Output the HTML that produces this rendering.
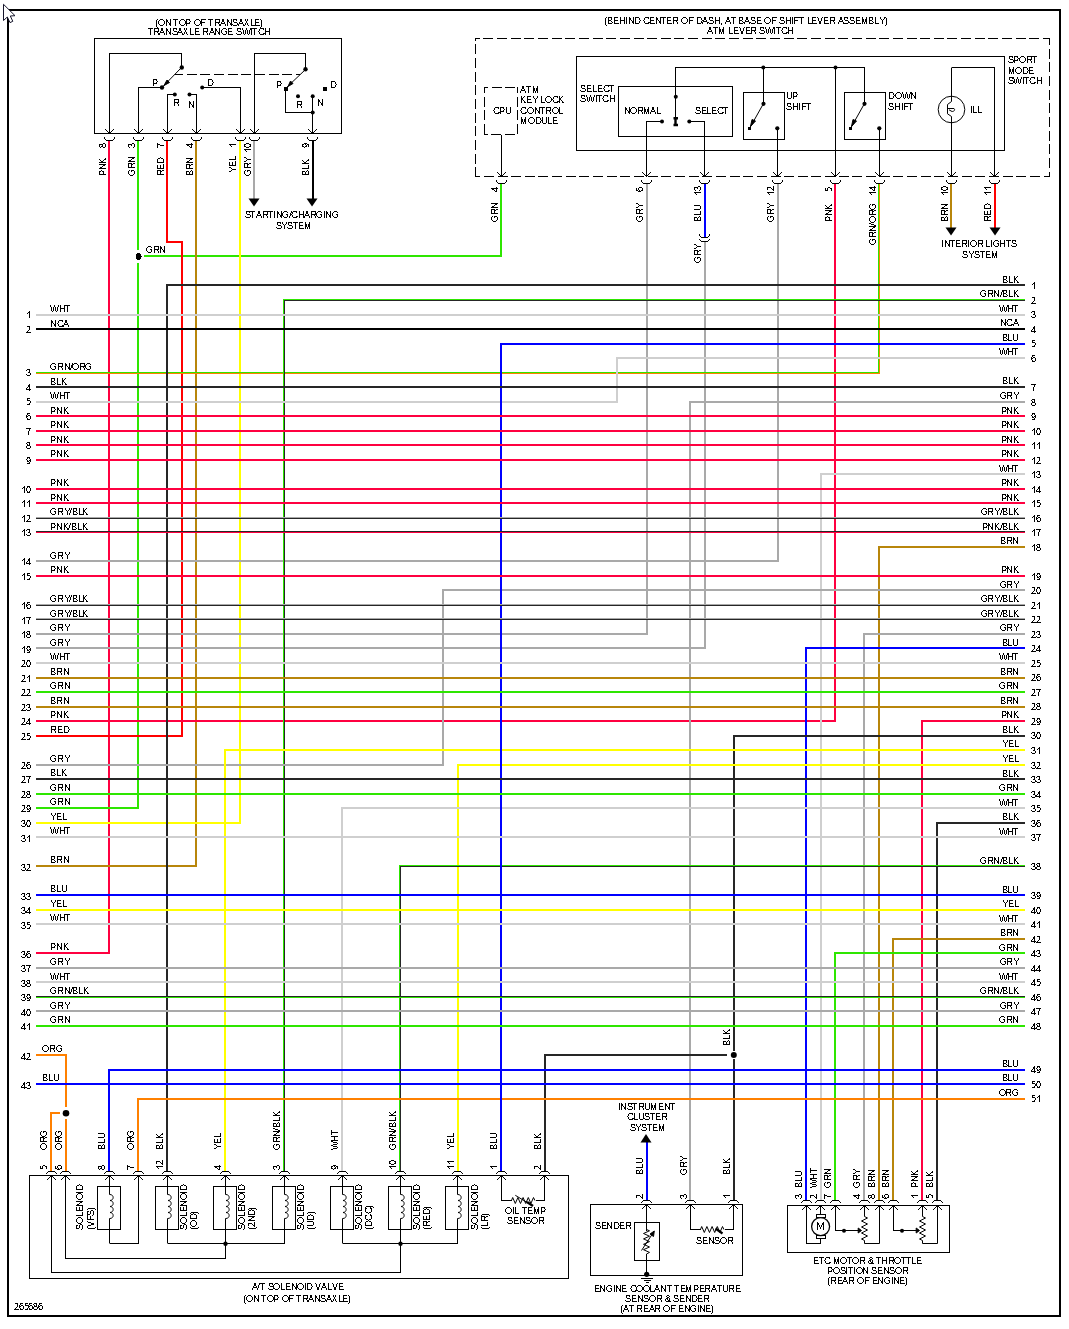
<!DOCTYPE html>
<html><head><meta charset="utf-8"><title>Wiring Diagram</title>
<style>
html,body{margin:0;padding:0;background:#fff;}
body{width:1069px;height:1329px;overflow:hidden;}
svg{display:block;}
svg text{font-family:"Liberation Sans",sans-serif;font-size:10.2px;fill:#000;fill-opacity:0;stroke:none;}
</style></head><body>
<svg width="1069" height="1329" viewBox="0 0 1069 1329" fill="none" shape-rendering="crispEdges">
<defs><path id="g49" d="M3 -7h1v1h-1zM2 -6h2v1h-2zM1 -5h1v1h-1zM3 -5h1v1h-1zM3 -4h1v1h-1zM3 -3h1v1h-1zM3 -2h1v1h-1zM3 -1h1v1h-1z" fill="#000" stroke="none"/><path id="g87" d="M0 -7h1v1h-1zM4 -7h1v1h-1zM8 -7h1v1h-1zM0 -6h1v1h-1zM4 -6h1v1h-1zM8 -6h1v1h-1zM1 -5h1v1h-1zM3 -5h1v1h-1zM5 -5h1v1h-1zM7 -5h1v1h-1zM1 -4h1v1h-1zM3 -4h1v1h-1zM5 -4h1v1h-1zM7 -4h1v1h-1zM1 -3h1v1h-1zM3 -3h1v1h-1zM5 -3h1v1h-1zM7 -3h1v1h-1zM1 -2h1v1h-1zM3 -2h1v1h-1zM5 -2h1v1h-1zM7 -2h1v1h-1zM2 -1h1v1h-1zM6 -1h1v1h-1z" fill="#000" stroke="none"/><path id="g72" d="M1 -7h1v1h-1zM5 -7h1v1h-1zM1 -6h1v1h-1zM5 -6h1v1h-1zM1 -5h1v1h-1zM5 -5h1v1h-1zM1 -4h5v1h-5zM1 -3h1v1h-1zM5 -3h1v1h-1zM1 -2h1v1h-1zM5 -2h1v1h-1zM1 -1h1v1h-1zM5 -1h1v1h-1z" fill="#000" stroke="none"/><path id="g84" d="M0 -7h5v1h-5zM2 -6h1v1h-1zM2 -5h1v1h-1zM2 -4h1v1h-1zM2 -3h1v1h-1zM2 -2h1v1h-1zM2 -1h1v1h-1z" fill="#000" stroke="none"/><path id="g50" d="M1 -7h3v1h-3zM3 -6h1v1h-1zM3 -5h1v1h-1zM3 -4h1v1h-1zM2 -3h1v1h-1zM1 -2h1v1h-1zM0 -1h5v1h-5z" fill="#000" stroke="none"/><path id="g78" d="M1 -7h1v1h-1zM5 -7h1v1h-1zM1 -6h2v1h-2zM5 -6h1v1h-1zM1 -5h2v1h-2zM5 -5h1v1h-1zM1 -4h1v1h-1zM3 -4h1v1h-1zM5 -4h1v1h-1zM1 -3h1v1h-1zM4 -3h2v1h-2zM1 -2h1v1h-1zM4 -2h2v1h-2zM1 -1h1v1h-1zM5 -1h1v1h-1z" fill="#000" stroke="none"/><path id="g67" d="M2 -7h4v1h-4zM1 -6h1v1h-1zM5 -6h1v1h-1zM1 -5h1v1h-1zM0 -4h1v1h-1zM1 -3h1v1h-1zM1 -2h1v1h-1zM5 -2h2v1h-2zM2 -1h4v1h-4z" fill="#000" stroke="none"/><path id="g65" d="M2 -7h2v1h-2zM2 -6h2v1h-2zM2 -5h2v1h-2zM1 -4h1v1h-1zM4 -4h1v1h-1zM1 -3h4v1h-4zM0 -2h1v1h-1zM5 -2h1v1h-1zM0 -1h1v1h-1zM5 -1h1v1h-1z" fill="#000" stroke="none"/><path id="g51" d="M1 -7h3v1h-3zM0 -6h1v1h-1zM3 -6h1v1h-1zM3 -5h1v1h-1zM2 -4h2v1h-2zM4 -3h1v1h-1zM0 -2h1v1h-1zM4 -2h1v1h-1zM1 -1h3v1h-3z" fill="#000" stroke="none"/><path id="g71" d="M2 -7h3v1h-3zM1 -6h1v1h-1zM5 -6h1v1h-1zM0 -5h1v1h-1zM0 -4h1v1h-1zM4 -4h2v1h-2zM0 -3h1v1h-1zM5 -3h1v1h-1zM1 -2h1v1h-1zM5 -2h1v1h-1zM2 -1h3v1h-3z" fill="#000" stroke="none"/><path id="g82" d="M1 -7h5v1h-5zM1 -6h1v1h-1zM5 -6h1v1h-1zM1 -5h1v1h-1zM5 -5h1v1h-1zM1 -4h5v1h-5zM1 -3h1v1h-1zM4 -3h1v1h-1zM1 -2h1v1h-1zM5 -2h1v1h-1zM1 -1h1v1h-1zM5 -1h1v1h-1z" fill="#000" stroke="none"/><path id="g47" d="M2 -7h1v1h-1zM2 -6h1v1h-1zM1 -5h1v1h-1zM1 -4h1v1h-1zM1 -3h1v1h-1zM0 -2h1v1h-1zM0 -1h1v1h-1z" fill="#000" stroke="none"/><path id="g79" d="M2 -7h3v1h-3zM1 -6h1v1h-1zM5 -6h1v1h-1zM0 -5h1v1h-1zM6 -5h1v1h-1zM0 -4h1v1h-1zM6 -4h1v1h-1zM0 -3h1v1h-1zM6 -3h1v1h-1zM1 -2h1v1h-1zM5 -2h1v1h-1zM2 -1h3v1h-3z" fill="#000" stroke="none"/><path id="g52" d="M3 -7h1v1h-1zM2 -6h2v1h-2zM2 -5h2v1h-2zM1 -4h1v1h-1zM3 -4h1v1h-1zM0 -3h1v1h-1zM3 -3h1v1h-1zM0 -2h5v1h-5zM3 -1h1v1h-1z" fill="#000" stroke="none"/><path id="g66" d="M1 -7h4v1h-4zM1 -6h1v1h-1zM4 -6h1v1h-1zM1 -5h1v1h-1zM4 -5h1v1h-1zM1 -4h3v1h-3zM1 -3h1v1h-1zM4 -3h1v1h-1zM1 -2h1v1h-1zM5 -2h1v1h-1zM1 -1h4v1h-4z" fill="#000" stroke="none"/><path id="g76" d="M1 -7h1v1h-1zM1 -6h1v1h-1zM1 -5h1v1h-1zM1 -4h1v1h-1zM1 -3h1v1h-1zM1 -2h1v1h-1zM1 -1h4v1h-4z" fill="#000" stroke="none"/><path id="g75" d="M1 -7h1v1h-1zM4 -7h1v1h-1zM1 -6h1v1h-1zM3 -6h1v1h-1zM1 -5h2v1h-2zM1 -4h2v1h-2zM1 -3h1v1h-1zM3 -3h1v1h-1zM1 -2h1v1h-1zM4 -2h1v1h-1zM1 -1h1v1h-1zM4 -1h2v1h-2z" fill="#000" stroke="none"/><path id="g53" d="M1 -7h3v1h-3zM1 -6h1v1h-1zM1 -5h3v1h-3zM4 -4h1v1h-1zM4 -3h1v1h-1zM3 -2h1v1h-1zM1 -1h3v1h-3z" fill="#000" stroke="none"/><path id="g54" d="M1 -7h3v1h-3zM1 -6h1v1h-1zM0 -5h1v1h-1zM2 -5h2v1h-2zM0 -4h2v1h-2zM4 -4h1v1h-1zM0 -3h1v1h-1zM4 -3h1v1h-1zM1 -2h1v1h-1zM4 -2h1v1h-1zM1 -1h3v1h-3z" fill="#000" stroke="none"/><path id="g80" d="M1 -7h4v1h-4zM1 -6h1v1h-1zM4 -6h1v1h-1zM1 -5h1v1h-1zM5 -5h1v1h-1zM1 -4h1v1h-1zM4 -4h1v1h-1zM1 -3h4v1h-4zM1 -2h1v1h-1zM1 -1h1v1h-1z" fill="#000" stroke="none"/><path id="g55" d="M0 -7h5v1h-5zM3 -6h1v1h-1zM3 -5h1v1h-1zM2 -4h1v1h-1zM2 -3h1v1h-1zM2 -2h1v1h-1zM2 -1h1v1h-1z" fill="#000" stroke="none"/><path id="g56" d="M1 -7h3v1h-3zM0 -6h1v1h-1zM3 -6h1v1h-1zM1 -5h1v1h-1zM3 -5h1v1h-1zM1 -4h3v1h-3zM0 -3h1v1h-1zM4 -3h1v1h-1zM0 -2h1v1h-1zM4 -2h1v1h-1zM1 -1h3v1h-3z" fill="#000" stroke="none"/><path id="g57" d="M1 -7h3v1h-3zM1 -6h1v1h-1zM3 -6h1v1h-1zM0 -5h1v1h-1zM4 -5h1v1h-1zM1 -4h1v1h-1zM3 -4h2v1h-2zM1 -3h2v1h-2zM4 -3h1v1h-1zM3 -2h1v1h-1zM1 -1h3v1h-3z" fill="#000" stroke="none"/><path id="g48" d="M1 -7h3v1h-3zM1 -6h1v1h-1zM3 -6h1v1h-1zM0 -5h1v1h-1zM4 -5h1v1h-1zM0 -4h1v1h-1zM4 -4h1v1h-1zM0 -3h1v1h-1zM4 -3h1v1h-1zM1 -2h1v1h-1zM3 -2h1v1h-1zM1 -1h3v1h-3z" fill="#000" stroke="none"/><path id="g89" d="M1 -7h1v1h-1zM5 -7h1v1h-1zM1 -6h1v1h-1zM5 -6h1v1h-1zM2 -5h1v1h-1zM4 -5h1v1h-1zM3 -4h1v1h-1zM3 -3h1v1h-1zM3 -2h1v1h-1zM3 -1h1v1h-1z" fill="#000" stroke="none"/><path id="g69" d="M1 -7h4v1h-4zM1 -6h1v1h-1zM1 -5h1v1h-1zM1 -4h4v1h-4zM1 -3h1v1h-1zM1 -2h1v1h-1zM1 -1h5v1h-5z" fill="#000" stroke="none"/><path id="g68" d="M1 -7h4v1h-4zM1 -6h1v1h-1zM5 -6h1v1h-1zM1 -5h1v1h-1zM5 -5h1v1h-1zM1 -4h1v1h-1zM6 -4h1v1h-1zM1 -3h1v1h-1zM5 -3h1v1h-1zM1 -2h1v1h-1zM5 -2h1v1h-1zM1 -1h4v1h-4z" fill="#000" stroke="none"/><path id="g85" d="M1 -7h1v1h-1zM5 -7h1v1h-1zM1 -6h1v1h-1zM5 -6h1v1h-1zM1 -5h1v1h-1zM5 -5h1v1h-1zM1 -4h1v1h-1zM5 -4h1v1h-1zM1 -3h1v1h-1zM5 -3h1v1h-1zM1 -2h1v1h-1zM5 -2h1v1h-1zM2 -1h3v1h-3z" fill="#000" stroke="none"/><path id="g40" d="M2 -7h1v1h-1zM1 -6h1v1h-1zM1 -5h1v1h-1zM1 -4h1v1h-1zM1 -3h1v1h-1zM1 -2h1v1h-1zM1 -1h1v1h-1zM1 0h1v1h-1zM2 1h1v1h-1z" fill="#000" stroke="none"/><path id="g70" d="M1 -7h5v1h-5zM1 -6h1v1h-1zM1 -5h1v1h-1zM1 -4h4v1h-4zM1 -3h1v1h-1zM1 -2h1v1h-1zM1 -1h1v1h-1z" fill="#000" stroke="none"/><path id="g83" d="M1 -7h4v1h-4zM1 -6h1v1h-1zM4 -6h1v1h-1zM1 -5h1v1h-1zM2 -4h3v1h-3zM5 -3h1v1h-1zM0 -2h1v1h-1zM5 -2h1v1h-1zM1 -1h4v1h-4z" fill="#000" stroke="none"/><path id="g88" d="M1 -7h1v1h-1zM3 -7h1v1h-1zM1 -6h1v1h-1zM3 -6h1v1h-1zM2 -5h1v1h-1zM2 -4h1v1h-1zM1 -3h1v1h-1zM3 -3h1v1h-1zM1 -2h1v1h-1zM3 -2h1v1h-1zM0 -1h1v1h-1zM4 -1h1v1h-1z" fill="#000" stroke="none"/><path id="g41" d="M0 -7h1v1h-1zM1 -6h1v1h-1zM1 -5h1v1h-1zM1 -4h1v1h-1zM1 -3h1v1h-1zM1 -2h1v1h-1zM1 -1h1v1h-1zM1 0h1v1h-1zM0 1h1v1h-1z" fill="#000" stroke="none"/><path id="g73" d="M1 -7h1v1h-1zM1 -6h1v1h-1zM1 -5h1v1h-1zM1 -4h1v1h-1zM1 -3h1v1h-1zM1 -2h1v1h-1zM1 -1h1v1h-1z" fill="#000" stroke="none"/><path id="g77" d="M1 -7h1v1h-1zM5 -7h1v1h-1zM1 -6h1v1h-1zM5 -6h1v1h-1zM1 -5h2v1h-2zM4 -5h2v1h-2zM1 -4h2v1h-2zM4 -4h2v1h-2zM1 -3h2v1h-2zM4 -3h2v1h-2zM1 -2h1v1h-1zM3 -2h1v1h-1zM5 -2h1v1h-1zM1 -1h1v1h-1zM3 -1h1v1h-1zM5 -1h1v1h-1z" fill="#000" stroke="none"/><path id="g44" d="M1 -1h1v1h-1zM1 0h1v1h-1z" fill="#000" stroke="none"/><path id="g86" d="M0 -7h1v1h-1zM5 -7h1v1h-1zM1 -6h1v1h-1zM4 -6h1v1h-1zM1 -5h1v1h-1zM4 -5h1v1h-1zM1 -4h1v1h-1zM4 -4h1v1h-1zM2 -3h2v1h-2zM2 -2h2v1h-2zM2 -1h2v1h-2z" fill="#000" stroke="none"/><path id="g38" d="M2 -7h2v1h-2zM1 -6h1v1h-1zM4 -6h1v1h-1zM2 -5h2v1h-2zM1 -4h2v1h-2zM4 -4h1v1h-1zM0 -3h1v1h-1zM2 -3h1v1h-1zM4 -3h1v1h-1zM0 -2h1v1h-1zM3 -2h2v1h-2zM1 -1h5v1h-5z" fill="#000" stroke="none"/></defs>
<rect x="8" y="10" width="1052" height="1306" stroke="#000" stroke-width="2"/>
<path d="M3.5 4.3 L3.5 20.5 L7.3 17 L10 22.6 L12.8 21.3 L10.3 16 L15 15.7 Z" fill="#fff" stroke="#14142a" stroke-width="1" shape-rendering="auto"/>
<path d="M109 141 L109 953 L36 953" stroke="#ff0040" stroke-width="2"/>
<path d="M138 141 L138 250" stroke="#2ee600" stroke-width="2"/>
<path d="M138 263 L138 808 L36 808" stroke="#2ee600" stroke-width="2"/>
<path d="M144 256 L501 256 L501 184" stroke="#2ee600" stroke-width="2"/>
<path d="M167 141 L167 242 L182 242 L182 736 L36 736" stroke="#ff0000" stroke-width="2"/>
<path d="M196 141 L196 866 L36 866" stroke="#b8860b" stroke-width="2"/>
<path d="M240 141 L240 823 L36 823" stroke="#ffff00" stroke-width="2"/>
<path d="M254 141 L254 199" stroke="#a9a9a9" stroke-width="2"/>
<path d="M313 141 L313 199" stroke="#000000" stroke-width="2"/>
<path d="M647 184 L647 634 L36 634" stroke="#a9a9a9" stroke-width="2"/>
<path d="M705 184 L705 237" stroke="#0000ff" stroke-width="2"/>
<path d="M705 242 L705 648 L36 648" stroke="#a9a9a9" stroke-width="2"/>
<path d="M778 184 L778 561 L36 561" stroke="#a9a9a9" stroke-width="2"/>
<path d="M835 184 L835 721 L36 721" stroke="#ff0040" stroke-width="2"/>
<path d="M878.5 184.0 L878.5 372.5 L36.0 372.5" stroke="#2ee600" stroke-width="1"/>
<path d="M879.5 184.0 L879.5 373.5 L36.0 373.5" stroke="#ff8000" stroke-width="1"/>
<path d="M951 184 L951 228" stroke="#b8860b" stroke-width="2"/>
<path d="M995 184 L995 228" stroke="#ff0000" stroke-width="2"/>
<path d="M1025 285 L167 285 L167 1171" stroke="#262626" stroke-width="2"/>
<path d="M1025.0 299.5 L283.5 299.5 L283.5 1171.0" stroke="#2ee600" stroke-width="1"/>
<path d="M1025.0 300.5 L284.5 300.5 L284.5 1171.0" stroke="#262626" stroke-width="1"/>
<path d="M36 402 L617 402 L617 358 L1025 358" stroke="#cfcfcf" stroke-width="2"/>
<path d="M1025 402 L690 402 L690 1200" stroke="#a9a9a9" stroke-width="2"/>
<path d="M1025 474 L821 474 L821 1200" stroke="#cfcfcf" stroke-width="2"/>
<path d="M1025 547 L879 547 L879 1200" stroke="#b8860b" stroke-width="2"/>
<path d="M1025 590 L443 590 L443 765 L36 765" stroke="#a9a9a9" stroke-width="2"/>
<path d="M1025 634 L864 634 L864 1200" stroke="#a9a9a9" stroke-width="2"/>
<path d="M1025 648 L806 648 L806 1200" stroke="#0000ff" stroke-width="2"/>
<path d="M1025 721 L922 721 L922 1200" stroke="#ff0040" stroke-width="2"/>
<path d="M1025 736 L734 736 L734 1051" stroke="#262626" stroke-width="2"/>
<path d="M734 1059 L734 1200" stroke="#262626" stroke-width="2"/>
<path d="M727 1055 L545 1055 L545 1171" stroke="#262626" stroke-width="2"/>
<path d="M1025 750 L225 750 L225 1171" stroke="#ffff00" stroke-width="2"/>
<path d="M1025 765 L458 765 L458 1171" stroke="#ffff00" stroke-width="2"/>
<path d="M1025 808 L342 808 L342 1171" stroke="#cfcfcf" stroke-width="2"/>
<path d="M1025 823 L937 823 L937 1200" stroke="#262626" stroke-width="2"/>
<path d="M1025.0 865.5 L399.5 865.5 L399.5 1171.0" stroke="#2ee600" stroke-width="1"/>
<path d="M1025.0 866.5 L400.5 866.5 L400.5 1171.0" stroke="#262626" stroke-width="1"/>
<path d="M1025 939 L893 939 L893 1200" stroke="#b8860b" stroke-width="2"/>
<path d="M1025 953 L835 953 L835 1200" stroke="#2ee600" stroke-width="2"/>
<path d="M36 1055 L66 1055 L66 1107" stroke="#ff8000" stroke-width="2"/>
<path d="M66 1119 L66 1171" stroke="#ff8000" stroke-width="2"/>
<path d="M60 1113 L51 1113 L51 1171" stroke="#ff8000" stroke-width="2"/>
<path d="M1025 1070 L109 1070 L109 1171" stroke="#0000ff" stroke-width="2"/>
<path d="M1025 1099 L138 1099 L138 1171" stroke="#ff8000" stroke-width="2"/>
<path d="M1025 344 L501 344 L501 1171" stroke="#0000ff" stroke-width="2"/>
<path d="M647 1142 L647 1200" stroke="#0000ff" stroke-width="2"/>
<path d="M36 315 L1025 315" stroke="#cfcfcf" stroke-width="2"/>
<path d="M36 329 L1025 329" stroke="#000000" stroke-width="2"/>
<path d="M36 387 L1025 387" stroke="#262626" stroke-width="2"/>
<path d="M36 416 L1025 416" stroke="#ff0040" stroke-width="2"/>
<path d="M36 431 L1025 431" stroke="#ff0040" stroke-width="2"/>
<path d="M36 445 L1025 445" stroke="#ff0040" stroke-width="2"/>
<path d="M36 460 L1025 460" stroke="#ff0040" stroke-width="2"/>
<path d="M36 489 L1025 489" stroke="#ff0040" stroke-width="2"/>
<path d="M36 503 L1025 503" stroke="#ff0040" stroke-width="2"/>
<path d="M36.0 517.5 L1025.0 517.5" stroke="#a9a9a9" stroke-width="1"/>
<path d="M36.0 518.5 L1025.0 518.5" stroke="#262626" stroke-width="1"/>
<path d="M36.0 531.5 L1025.0 531.5" stroke="#262626" stroke-width="1"/>
<path d="M36.0 532.5 L1025.0 532.5" stroke="#ff0040" stroke-width="1"/>
<path d="M36 576 L1025 576" stroke="#ff0040" stroke-width="2"/>
<path d="M36.0 604.5 L1025.0 604.5" stroke="#a9a9a9" stroke-width="1"/>
<path d="M36.0 605.5 L1025.0 605.5" stroke="#262626" stroke-width="1"/>
<path d="M36.0 618.5 L1025.0 618.5" stroke="#a9a9a9" stroke-width="1"/>
<path d="M36.0 619.5 L1025.0 619.5" stroke="#262626" stroke-width="1"/>
<path d="M36 663 L1025 663" stroke="#cfcfcf" stroke-width="2"/>
<path d="M36 678 L1025 678" stroke="#b8860b" stroke-width="2"/>
<path d="M36 692 L1025 692" stroke="#2ee600" stroke-width="2"/>
<path d="M36 707 L1025 707" stroke="#b8860b" stroke-width="2"/>
<path d="M36 779 L1025 779" stroke="#262626" stroke-width="2"/>
<path d="M36 794 L1025 794" stroke="#2ee600" stroke-width="2"/>
<path d="M36 837 L1025 837" stroke="#cfcfcf" stroke-width="2"/>
<path d="M36 895 L1025 895" stroke="#0000ff" stroke-width="2"/>
<path d="M36 910 L1025 910" stroke="#ffff00" stroke-width="2"/>
<path d="M36 924 L1025 924" stroke="#cfcfcf" stroke-width="2"/>
<path d="M36 968 L1025 968" stroke="#a9a9a9" stroke-width="2"/>
<path d="M36 982 L1025 982" stroke="#cfcfcf" stroke-width="2"/>
<path d="M36.0 996.5 L1025.0 996.5" stroke="#262626" stroke-width="1"/>
<path d="M36.0 997.5 L1025.0 997.5" stroke="#2ee600" stroke-width="1"/>
<path d="M36 1011 L1025 1011" stroke="#a9a9a9" stroke-width="2"/>
<path d="M36 1026 L1025 1026" stroke="#2ee600" stroke-width="2"/>
<path d="M36 1084 L1025 1084" stroke="#0000ff" stroke-width="2"/>
<use href="#g49" x="26" y="318"/><text x="25.6" y="318" textLength="4.9">1</text>
<use href="#g87" x="50" y="312"/><use href="#g72" x="59" y="312"/><use href="#g84" x="65" y="312"/><text x="50.4" y="312" textLength="19.9">WHT</text>
<use href="#g50" x="26" y="333"/><text x="25.6" y="333" textLength="4.9">2</text>
<use href="#g78" x="50" y="327"/><use href="#g67" x="57" y="327"/><use href="#g65" x="63" y="327"/><text x="50.4" y="327" textLength="18.5">NCA</text>
<use href="#g51" x="26" y="376"/><text x="25.6" y="376" textLength="4.9">3</text>
<use href="#g71" x="50" y="370"/><use href="#g82" x="57" y="370"/><use href="#g78" x="64" y="370"/><use href="#g47" x="70" y="370"/><use href="#g79" x="72" y="370"/><use href="#g82" x="79" y="370"/><use href="#g71" x="85" y="370"/><text x="50.4" y="370" textLength="41.8">GRN/ORG</text>
<use href="#g52" x="26" y="391"/><text x="25.6" y="391" textLength="4.9">4</text>
<use href="#g66" x="50" y="385"/><use href="#g76" x="56" y="385"/><use href="#g75" x="61" y="385"/><text x="50.4" y="385" textLength="16.5">BLK</text>
<use href="#g53" x="26" y="405"/><text x="25.6" y="405" textLength="4.9">5</text>
<use href="#g87" x="50" y="399"/><use href="#g72" x="59" y="399"/><use href="#g84" x="65" y="399"/><text x="50.4" y="399" textLength="19.9">WHT</text>
<use href="#g54" x="26" y="420"/><text x="25.6" y="420" textLength="4.9">6</text>
<use href="#g80" x="50" y="414"/><use href="#g78" x="56" y="414"/><use href="#g75" x="63" y="414"/><text x="50.4" y="414" textLength="18.0">PNK</text>
<use href="#g55" x="26" y="435"/><text x="25.6" y="435" textLength="4.9">7</text>
<use href="#g80" x="50" y="428"/><use href="#g78" x="56" y="428"/><use href="#g75" x="63" y="428"/><text x="50.4" y="428" textLength="18.0">PNK</text>
<use href="#g56" x="26" y="449"/><text x="25.6" y="449" textLength="4.9">8</text>
<use href="#g80" x="50" y="443"/><use href="#g78" x="56" y="443"/><use href="#g75" x="63" y="443"/><text x="50.4" y="443" textLength="18.0">PNK</text>
<use href="#g57" x="26" y="464"/><text x="25.6" y="464" textLength="4.9">9</text>
<use href="#g80" x="50" y="457"/><use href="#g78" x="56" y="457"/><use href="#g75" x="63" y="457"/><text x="50.4" y="457" textLength="18.0">PNK</text>
<use href="#g49" x="21" y="493"/><use href="#g48" x="26" y="493"/><text x="20.8" y="493" textLength="9.7">10</text>
<use href="#g80" x="50" y="486"/><use href="#g78" x="56" y="486"/><use href="#g75" x="63" y="486"/><text x="50.4" y="486" textLength="18.0">PNK</text>
<use href="#g49" x="21" y="507"/><use href="#g49" x="26" y="507"/><text x="20.8" y="507" textLength="9.7">11</text>
<use href="#g80" x="50" y="501"/><use href="#g78" x="56" y="501"/><use href="#g75" x="63" y="501"/><text x="50.4" y="501" textLength="18.0">PNK</text>
<use href="#g49" x="21" y="522"/><use href="#g50" x="26" y="522"/><text x="20.8" y="522" textLength="9.7">12</text>
<use href="#g71" x="50" y="515"/><use href="#g82" x="57" y="515"/><use href="#g89" x="64" y="515"/><use href="#g47" x="69" y="515"/><use href="#g66" x="72" y="515"/><use href="#g76" x="78" y="515"/><use href="#g75" x="82" y="515"/><text x="50.4" y="515" textLength="37.9">GRY/BLK</text>
<use href="#g49" x="21" y="536"/><use href="#g51" x="26" y="536"/><text x="20.8" y="536" textLength="9.7">13</text>
<use href="#g80" x="50" y="530"/><use href="#g78" x="56" y="530"/><use href="#g75" x="63" y="530"/><use href="#g47" x="68" y="530"/><use href="#g66" x="71" y="530"/><use href="#g76" x="77" y="530"/><use href="#g75" x="82" y="530"/><text x="50.4" y="530" textLength="37.0">PNK/BLK</text>
<use href="#g49" x="21" y="565"/><use href="#g52" x="26" y="565"/><text x="20.8" y="565" textLength="9.7">14</text>
<use href="#g71" x="50" y="559"/><use href="#g82" x="57" y="559"/><use href="#g89" x="64" y="559"/><text x="50.4" y="559" textLength="19.0">GRY</text>
<use href="#g49" x="21" y="580"/><use href="#g53" x="26" y="580"/><text x="20.8" y="580" textLength="9.7">15</text>
<use href="#g80" x="50" y="573"/><use href="#g78" x="56" y="573"/><use href="#g75" x="63" y="573"/><text x="50.4" y="573" textLength="18.0">PNK</text>
<use href="#g49" x="21" y="609"/><use href="#g54" x="26" y="609"/><text x="20.8" y="609" textLength="9.7">16</text>
<use href="#g71" x="50" y="602"/><use href="#g82" x="57" y="602"/><use href="#g89" x="64" y="602"/><use href="#g47" x="69" y="602"/><use href="#g66" x="72" y="602"/><use href="#g76" x="78" y="602"/><use href="#g75" x="82" y="602"/><text x="50.4" y="602" textLength="37.9">GRY/BLK</text>
<use href="#g49" x="21" y="624"/><use href="#g55" x="26" y="624"/><text x="20.8" y="624" textLength="9.7">17</text>
<use href="#g71" x="50" y="617"/><use href="#g82" x="57" y="617"/><use href="#g89" x="64" y="617"/><use href="#g47" x="69" y="617"/><use href="#g66" x="72" y="617"/><use href="#g76" x="78" y="617"/><use href="#g75" x="82" y="617"/><text x="50.4" y="617" textLength="37.9">GRY/BLK</text>
<use href="#g49" x="21" y="638"/><use href="#g56" x="26" y="638"/><text x="20.8" y="638" textLength="9.7">18</text>
<use href="#g71" x="50" y="631"/><use href="#g82" x="57" y="631"/><use href="#g89" x="64" y="631"/><text x="50.4" y="631" textLength="19.0">GRY</text>
<use href="#g49" x="21" y="653"/><use href="#g57" x="26" y="653"/><text x="20.8" y="653" textLength="9.7">19</text>
<use href="#g71" x="50" y="646"/><use href="#g82" x="57" y="646"/><use href="#g89" x="64" y="646"/><text x="50.4" y="646" textLength="19.0">GRY</text>
<use href="#g50" x="21" y="667"/><use href="#g48" x="26" y="667"/><text x="20.8" y="667" textLength="9.7">20</text>
<use href="#g87" x="50" y="660"/><use href="#g72" x="59" y="660"/><use href="#g84" x="65" y="660"/><text x="50.4" y="660" textLength="19.9">WHT</text>
<use href="#g50" x="21" y="682"/><use href="#g49" x="26" y="682"/><text x="20.8" y="682" textLength="9.7">21</text>
<use href="#g66" x="50" y="675"/><use href="#g82" x="56" y="675"/><use href="#g78" x="63" y="675"/><text x="50.4" y="675" textLength="18.5">BRN</text>
<use href="#g50" x="21" y="696"/><use href="#g50" x="26" y="696"/><text x="20.8" y="696" textLength="9.7">22</text>
<use href="#g71" x="50" y="689"/><use href="#g82" x="57" y="689"/><use href="#g78" x="64" y="689"/><text x="50.4" y="689" textLength="19.4">GRN</text>
<use href="#g50" x="21" y="711"/><use href="#g51" x="26" y="711"/><text x="20.8" y="711" textLength="9.7">23</text>
<use href="#g66" x="50" y="704"/><use href="#g82" x="56" y="704"/><use href="#g78" x="63" y="704"/><text x="50.4" y="704" textLength="18.5">BRN</text>
<use href="#g50" x="21" y="725"/><use href="#g52" x="26" y="725"/><text x="20.8" y="725" textLength="9.7">24</text>
<use href="#g80" x="50" y="718"/><use href="#g78" x="56" y="718"/><use href="#g75" x="63" y="718"/><text x="50.4" y="718" textLength="18.0">PNK</text>
<use href="#g50" x="21" y="740"/><use href="#g53" x="26" y="740"/><text x="20.8" y="740" textLength="9.7">25</text>
<use href="#g82" x="50" y="733"/><use href="#g69" x="57" y="733"/><use href="#g68" x="63" y="733"/><text x="50.4" y="733" textLength="18.5">RED</text>
<use href="#g50" x="21" y="769"/><use href="#g54" x="26" y="769"/><text x="20.8" y="769" textLength="9.7">26</text>
<use href="#g71" x="50" y="762"/><use href="#g82" x="57" y="762"/><use href="#g89" x="64" y="762"/><text x="50.4" y="762" textLength="19.0">GRY</text>
<use href="#g50" x="21" y="783"/><use href="#g55" x="26" y="783"/><text x="20.8" y="783" textLength="9.7">27</text>
<use href="#g66" x="50" y="776"/><use href="#g76" x="56" y="776"/><use href="#g75" x="61" y="776"/><text x="50.4" y="776" textLength="16.5">BLK</text>
<use href="#g50" x="21" y="798"/><use href="#g56" x="26" y="798"/><text x="20.8" y="798" textLength="9.7">28</text>
<use href="#g71" x="50" y="791"/><use href="#g82" x="57" y="791"/><use href="#g78" x="64" y="791"/><text x="50.4" y="791" textLength="19.4">GRN</text>
<use href="#g50" x="21" y="812"/><use href="#g57" x="26" y="812"/><text x="20.8" y="812" textLength="9.7">29</text>
<use href="#g71" x="50" y="805"/><use href="#g82" x="57" y="805"/><use href="#g78" x="64" y="805"/><text x="50.4" y="805" textLength="19.4">GRN</text>
<use href="#g51" x="21" y="827"/><use href="#g48" x="26" y="827"/><text x="20.8" y="827" textLength="9.7">30</text>
<use href="#g89" x="50" y="820"/><use href="#g69" x="56" y="820"/><use href="#g76" x="62" y="820"/><text x="50.4" y="820" textLength="16.5">YEL</text>
<use href="#g51" x="21" y="842"/><use href="#g49" x="26" y="842"/><text x="20.8" y="842" textLength="9.7">31</text>
<use href="#g87" x="50" y="834"/><use href="#g72" x="59" y="834"/><use href="#g84" x="65" y="834"/><text x="50.4" y="834" textLength="19.9">WHT</text>
<use href="#g51" x="21" y="871"/><use href="#g50" x="26" y="871"/><text x="20.8" y="871" textLength="9.7">32</text>
<use href="#g66" x="50" y="863"/><use href="#g82" x="56" y="863"/><use href="#g78" x="63" y="863"/><text x="50.4" y="863" textLength="18.5">BRN</text>
<use href="#g51" x="21" y="900"/><use href="#g51" x="26" y="900"/><text x="20.8" y="900" textLength="9.7">33</text>
<use href="#g66" x="50" y="892"/><use href="#g76" x="56" y="892"/><use href="#g85" x="61" y="892"/><text x="50.4" y="892" textLength="17.0">BLU</text>
<use href="#g51" x="21" y="914"/><use href="#g52" x="26" y="914"/><text x="20.8" y="914" textLength="9.7">34</text>
<use href="#g89" x="50" y="907"/><use href="#g69" x="56" y="907"/><use href="#g76" x="62" y="907"/><text x="50.4" y="907" textLength="16.5">YEL</text>
<use href="#g51" x="21" y="929"/><use href="#g53" x="26" y="929"/><text x="20.8" y="929" textLength="9.7">35</text>
<use href="#g87" x="50" y="921"/><use href="#g72" x="59" y="921"/><use href="#g84" x="65" y="921"/><text x="50.4" y="921" textLength="19.9">WHT</text>
<use href="#g51" x="21" y="958"/><use href="#g54" x="26" y="958"/><text x="20.8" y="958" textLength="9.7">36</text>
<use href="#g80" x="50" y="950"/><use href="#g78" x="56" y="950"/><use href="#g75" x="63" y="950"/><text x="50.4" y="950" textLength="18.0">PNK</text>
<use href="#g51" x="21" y="972"/><use href="#g55" x="26" y="972"/><text x="20.8" y="972" textLength="9.7">37</text>
<use href="#g71" x="50" y="965"/><use href="#g82" x="57" y="965"/><use href="#g89" x="64" y="965"/><text x="50.4" y="965" textLength="19.0">GRY</text>
<use href="#g51" x="21" y="987"/><use href="#g56" x="26" y="987"/><text x="20.8" y="987" textLength="9.7">38</text>
<use href="#g87" x="50" y="980"/><use href="#g72" x="59" y="980"/><use href="#g84" x="65" y="980"/><text x="50.4" y="980" textLength="19.9">WHT</text>
<use href="#g51" x="21" y="1001"/><use href="#g57" x="26" y="1001"/><text x="20.8" y="1001" textLength="9.7">39</text>
<use href="#g71" x="50" y="994"/><use href="#g82" x="57" y="994"/><use href="#g78" x="64" y="994"/><use href="#g47" x="70" y="994"/><use href="#g66" x="72" y="994"/><use href="#g76" x="78" y="994"/><use href="#g75" x="83" y="994"/><text x="50.4" y="994" textLength="38.4">GRN/BLK</text>
<use href="#g52" x="21" y="1016"/><use href="#g48" x="26" y="1016"/><text x="20.8" y="1016" textLength="9.7">40</text>
<use href="#g71" x="50" y="1009"/><use href="#g82" x="57" y="1009"/><use href="#g89" x="64" y="1009"/><text x="50.4" y="1009" textLength="19.0">GRY</text>
<use href="#g52" x="21" y="1030"/><use href="#g49" x="26" y="1030"/><text x="20.8" y="1030" textLength="9.7">41</text>
<use href="#g71" x="50" y="1023"/><use href="#g82" x="57" y="1023"/><use href="#g78" x="64" y="1023"/><text x="50.4" y="1023" textLength="19.4">GRN</text>
<use href="#g52" x="21" y="1060"/><use href="#g50" x="26" y="1060"/><text x="20.8" y="1060" textLength="9.7">42</text>
<use href="#g79" x="42" y="1052"/><use href="#g82" x="49" y="1052"/><use href="#g71" x="56" y="1052"/><text x="42.5" y="1052" textLength="19.9">ORG</text>
<use href="#g52" x="21" y="1089"/><use href="#g51" x="26" y="1089"/><text x="20.8" y="1089" textLength="9.7">43</text>
<use href="#g66" x="42" y="1081"/><use href="#g76" x="48" y="1081"/><use href="#g85" x="53" y="1081"/><text x="42.5" y="1081" textLength="17.0">BLU</text>
<use href="#g66" x="1002" y="283"/><use href="#g76" x="1008" y="283"/><use href="#g75" x="1013" y="283"/><text x="1002.1" y="283" textLength="16.5">BLK</text>
<use href="#g49" x="1031" y="289"/><text x="1031.0" y="289" textLength="4.9">1</text>
<use href="#g71" x="980" y="297"/><use href="#g82" x="987" y="297"/><use href="#g78" x="993" y="297"/><use href="#g47" x="1000" y="297"/><use href="#g66" x="1002" y="297"/><use href="#g76" x="1008" y="297"/><use href="#g75" x="1013" y="297"/><text x="980.2" y="297" textLength="38.4">GRN/BLK</text>
<use href="#g50" x="1031" y="304"/><text x="1031.0" y="304" textLength="4.9">2</text>
<use href="#g87" x="999" y="312"/><use href="#g72" x="1007" y="312"/><use href="#g84" x="1013" y="312"/><text x="998.7" y="312" textLength="19.9">WHT</text>
<use href="#g51" x="1031" y="318"/><text x="1031.0" y="318" textLength="4.9">3</text>
<use href="#g78" x="1000" y="326"/><use href="#g67" x="1006" y="326"/><use href="#g65" x="1013" y="326"/><text x="1000.1" y="326" textLength="18.5">NCA</text>
<use href="#g52" x="1031" y="333"/><text x="1031.0" y="333" textLength="4.9">4</text>
<use href="#g66" x="1002" y="341"/><use href="#g76" x="1007" y="341"/><use href="#g85" x="1012" y="341"/><text x="1001.6" y="341" textLength="17.0">BLU</text>
<use href="#g53" x="1031" y="347"/><text x="1031.0" y="347" textLength="4.9">5</text>
<use href="#g87" x="999" y="355"/><use href="#g72" x="1007" y="355"/><use href="#g84" x="1013" y="355"/><text x="998.7" y="355" textLength="19.9">WHT</text>
<use href="#g54" x="1031" y="362"/><text x="1031.0" y="362" textLength="4.9">6</text>
<use href="#g66" x="1002" y="384"/><use href="#g76" x="1008" y="384"/><use href="#g75" x="1013" y="384"/><text x="1002.1" y="384" textLength="16.5">BLK</text>
<use href="#g55" x="1031" y="391"/><text x="1031.0" y="391" textLength="4.9">7</text>
<use href="#g71" x="1000" y="399"/><use href="#g82" x="1006" y="399"/><use href="#g89" x="1013" y="399"/><text x="999.6" y="399" textLength="19.0">GRY</text>
<use href="#g56" x="1031" y="406"/><text x="1031.0" y="406" textLength="4.9">8</text>
<use href="#g80" x="1001" y="414"/><use href="#g78" x="1006" y="414"/><use href="#g75" x="1013" y="414"/><text x="1000.6" y="414" textLength="18.0">PNK</text>
<use href="#g57" x="1031" y="420"/><text x="1031.0" y="420" textLength="4.9">9</text>
<use href="#g80" x="1001" y="428"/><use href="#g78" x="1006" y="428"/><use href="#g75" x="1013" y="428"/><text x="1000.6" y="428" textLength="18.0">PNK</text>
<use href="#g49" x="1031" y="435"/><use href="#g48" x="1036" y="435"/><text x="1031.0" y="435" textLength="9.7">10</text>
<use href="#g80" x="1001" y="443"/><use href="#g78" x="1006" y="443"/><use href="#g75" x="1013" y="443"/><text x="1000.6" y="443" textLength="18.0">PNK</text>
<use href="#g49" x="1031" y="449"/><use href="#g49" x="1036" y="449"/><text x="1031.0" y="449" textLength="9.7">11</text>
<use href="#g80" x="1001" y="457"/><use href="#g78" x="1006" y="457"/><use href="#g75" x="1013" y="457"/><text x="1000.6" y="457" textLength="18.0">PNK</text>
<use href="#g49" x="1031" y="464"/><use href="#g50" x="1036" y="464"/><text x="1031.0" y="464" textLength="9.7">12</text>
<use href="#g87" x="999" y="472"/><use href="#g72" x="1007" y="472"/><use href="#g84" x="1013" y="472"/><text x="998.7" y="472" textLength="19.9">WHT</text>
<use href="#g49" x="1031" y="478"/><use href="#g51" x="1036" y="478"/><text x="1031.0" y="478" textLength="9.7">13</text>
<use href="#g80" x="1001" y="486"/><use href="#g78" x="1006" y="486"/><use href="#g75" x="1013" y="486"/><text x="1000.6" y="486" textLength="18.0">PNK</text>
<use href="#g49" x="1031" y="493"/><use href="#g52" x="1036" y="493"/><text x="1031.0" y="493" textLength="9.7">14</text>
<use href="#g80" x="1001" y="501"/><use href="#g78" x="1006" y="501"/><use href="#g75" x="1013" y="501"/><text x="1000.6" y="501" textLength="18.0">PNK</text>
<use href="#g49" x="1031" y="507"/><use href="#g53" x="1036" y="507"/><text x="1031.0" y="507" textLength="9.7">15</text>
<use href="#g71" x="981" y="515"/><use href="#g82" x="987" y="515"/><use href="#g89" x="994" y="515"/><use href="#g47" x="1000" y="515"/><use href="#g66" x="1002" y="515"/><use href="#g76" x="1008" y="515"/><use href="#g75" x="1013" y="515"/><text x="980.7" y="515" textLength="37.9">GRY/BLK</text>
<use href="#g49" x="1031" y="522"/><use href="#g54" x="1036" y="522"/><text x="1031.0" y="522" textLength="9.7">16</text>
<use href="#g80" x="982" y="530"/><use href="#g78" x="987" y="530"/><use href="#g75" x="994" y="530"/><use href="#g47" x="1000" y="530"/><use href="#g66" x="1002" y="530"/><use href="#g76" x="1008" y="530"/><use href="#g75" x="1013" y="530"/><text x="981.6" y="530" textLength="37.0">PNK/BLK</text>
<use href="#g49" x="1031" y="536"/><use href="#g55" x="1036" y="536"/><text x="1031.0" y="536" textLength="9.7">17</text>
<use href="#g66" x="1000" y="544"/><use href="#g82" x="1006" y="544"/><use href="#g78" x="1012" y="544"/><text x="1000.1" y="544" textLength="18.5">BRN</text>
<use href="#g49" x="1031" y="551"/><use href="#g56" x="1036" y="551"/><text x="1031.0" y="551" textLength="9.7">18</text>
<use href="#g80" x="1001" y="573"/><use href="#g78" x="1006" y="573"/><use href="#g75" x="1013" y="573"/><text x="1000.6" y="573" textLength="18.0">PNK</text>
<use href="#g49" x="1031" y="580"/><use href="#g57" x="1036" y="580"/><text x="1031.0" y="580" textLength="9.7">19</text>
<use href="#g71" x="1000" y="588"/><use href="#g82" x="1006" y="588"/><use href="#g89" x="1013" y="588"/><text x="999.6" y="588" textLength="19.0">GRY</text>
<use href="#g50" x="1031" y="594"/><use href="#g48" x="1036" y="594"/><text x="1031.0" y="594" textLength="9.7">20</text>
<use href="#g71" x="981" y="602"/><use href="#g82" x="987" y="602"/><use href="#g89" x="994" y="602"/><use href="#g47" x="1000" y="602"/><use href="#g66" x="1002" y="602"/><use href="#g76" x="1008" y="602"/><use href="#g75" x="1013" y="602"/><text x="980.7" y="602" textLength="37.9">GRY/BLK</text>
<use href="#g50" x="1031" y="609"/><use href="#g49" x="1036" y="609"/><text x="1031.0" y="609" textLength="9.7">21</text>
<use href="#g71" x="981" y="617"/><use href="#g82" x="987" y="617"/><use href="#g89" x="994" y="617"/><use href="#g47" x="1000" y="617"/><use href="#g66" x="1002" y="617"/><use href="#g76" x="1008" y="617"/><use href="#g75" x="1013" y="617"/><text x="980.7" y="617" textLength="37.9">GRY/BLK</text>
<use href="#g50" x="1031" y="623"/><use href="#g50" x="1036" y="623"/><text x="1031.0" y="623" textLength="9.7">22</text>
<use href="#g71" x="1000" y="631"/><use href="#g82" x="1006" y="631"/><use href="#g89" x="1013" y="631"/><text x="999.6" y="631" textLength="19.0">GRY</text>
<use href="#g50" x="1031" y="638"/><use href="#g51" x="1036" y="638"/><text x="1031.0" y="638" textLength="9.7">23</text>
<use href="#g66" x="1002" y="646"/><use href="#g76" x="1007" y="646"/><use href="#g85" x="1012" y="646"/><text x="1001.6" y="646" textLength="17.0">BLU</text>
<use href="#g50" x="1031" y="652"/><use href="#g52" x="1036" y="652"/><text x="1031.0" y="652" textLength="9.7">24</text>
<use href="#g87" x="999" y="660"/><use href="#g72" x="1007" y="660"/><use href="#g84" x="1013" y="660"/><text x="998.7" y="660" textLength="19.9">WHT</text>
<use href="#g50" x="1031" y="667"/><use href="#g53" x="1036" y="667"/><text x="1031.0" y="667" textLength="9.7">25</text>
<use href="#g66" x="1000" y="675"/><use href="#g82" x="1006" y="675"/><use href="#g78" x="1012" y="675"/><text x="1000.1" y="675" textLength="18.5">BRN</text>
<use href="#g50" x="1031" y="681"/><use href="#g54" x="1036" y="681"/><text x="1031.0" y="681" textLength="9.7">26</text>
<use href="#g71" x="999" y="689"/><use href="#g82" x="1006" y="689"/><use href="#g78" x="1012" y="689"/><text x="999.2" y="689" textLength="19.4">GRN</text>
<use href="#g50" x="1031" y="696"/><use href="#g55" x="1036" y="696"/><text x="1031.0" y="696" textLength="9.7">27</text>
<use href="#g66" x="1000" y="704"/><use href="#g82" x="1006" y="704"/><use href="#g78" x="1012" y="704"/><text x="1000.1" y="704" textLength="18.5">BRN</text>
<use href="#g50" x="1031" y="710"/><use href="#g56" x="1036" y="710"/><text x="1031.0" y="710" textLength="9.7">28</text>
<use href="#g80" x="1001" y="718"/><use href="#g78" x="1006" y="718"/><use href="#g75" x="1013" y="718"/><text x="1000.6" y="718" textLength="18.0">PNK</text>
<use href="#g50" x="1031" y="725"/><use href="#g57" x="1036" y="725"/><text x="1031.0" y="725" textLength="9.7">29</text>
<use href="#g66" x="1002" y="733"/><use href="#g76" x="1008" y="733"/><use href="#g75" x="1013" y="733"/><text x="1002.1" y="733" textLength="16.5">BLK</text>
<use href="#g51" x="1031" y="739"/><use href="#g48" x="1036" y="739"/><text x="1031.0" y="739" textLength="9.7">30</text>
<use href="#g89" x="1002" y="747"/><use href="#g69" x="1008" y="747"/><use href="#g76" x="1014" y="747"/><text x="1002.1" y="747" textLength="16.5">YEL</text>
<use href="#g51" x="1031" y="754"/><use href="#g49" x="1036" y="754"/><text x="1031.0" y="754" textLength="9.7">31</text>
<use href="#g89" x="1002" y="762"/><use href="#g69" x="1008" y="762"/><use href="#g76" x="1014" y="762"/><text x="1002.1" y="762" textLength="16.5">YEL</text>
<use href="#g51" x="1031" y="769"/><use href="#g50" x="1036" y="769"/><text x="1031.0" y="769" textLength="9.7">32</text>
<use href="#g66" x="1002" y="777"/><use href="#g76" x="1008" y="777"/><use href="#g75" x="1013" y="777"/><text x="1002.1" y="777" textLength="16.5">BLK</text>
<use href="#g51" x="1031" y="783"/><use href="#g51" x="1036" y="783"/><text x="1031.0" y="783" textLength="9.7">33</text>
<use href="#g71" x="999" y="791"/><use href="#g82" x="1006" y="791"/><use href="#g78" x="1012" y="791"/><text x="999.2" y="791" textLength="19.4">GRN</text>
<use href="#g51" x="1031" y="798"/><use href="#g52" x="1036" y="798"/><text x="1031.0" y="798" textLength="9.7">34</text>
<use href="#g87" x="999" y="806"/><use href="#g72" x="1007" y="806"/><use href="#g84" x="1013" y="806"/><text x="998.7" y="806" textLength="19.9">WHT</text>
<use href="#g51" x="1031" y="812"/><use href="#g53" x="1036" y="812"/><text x="1031.0" y="812" textLength="9.7">35</text>
<use href="#g66" x="1002" y="820"/><use href="#g76" x="1008" y="820"/><use href="#g75" x="1013" y="820"/><text x="1002.1" y="820" textLength="16.5">BLK</text>
<use href="#g51" x="1031" y="827"/><use href="#g54" x="1036" y="827"/><text x="1031.0" y="827" textLength="9.7">36</text>
<use href="#g87" x="999" y="835"/><use href="#g72" x="1007" y="835"/><use href="#g84" x="1013" y="835"/><text x="998.7" y="835" textLength="19.9">WHT</text>
<use href="#g51" x="1031" y="841"/><use href="#g55" x="1036" y="841"/><text x="1031.0" y="841" textLength="9.7">37</text>
<use href="#g71" x="980" y="864"/><use href="#g82" x="987" y="864"/><use href="#g78" x="993" y="864"/><use href="#g47" x="1000" y="864"/><use href="#g66" x="1002" y="864"/><use href="#g76" x="1008" y="864"/><use href="#g75" x="1013" y="864"/><text x="980.2" y="864" textLength="38.4">GRN/BLK</text>
<use href="#g51" x="1031" y="870"/><use href="#g56" x="1036" y="870"/><text x="1031.0" y="870" textLength="9.7">38</text>
<use href="#g66" x="1002" y="893"/><use href="#g76" x="1007" y="893"/><use href="#g85" x="1012" y="893"/><text x="1001.6" y="893" textLength="17.0">BLU</text>
<use href="#g51" x="1031" y="899"/><use href="#g57" x="1036" y="899"/><text x="1031.0" y="899" textLength="9.7">39</text>
<use href="#g89" x="1002" y="907"/><use href="#g69" x="1008" y="907"/><use href="#g76" x="1014" y="907"/><text x="1002.1" y="907" textLength="16.5">YEL</text>
<use href="#g52" x="1031" y="914"/><use href="#g48" x="1036" y="914"/><text x="1031.0" y="914" textLength="9.7">40</text>
<use href="#g87" x="999" y="922"/><use href="#g72" x="1007" y="922"/><use href="#g84" x="1013" y="922"/><text x="998.7" y="922" textLength="19.9">WHT</text>
<use href="#g52" x="1031" y="928"/><use href="#g49" x="1036" y="928"/><text x="1031.0" y="928" textLength="9.7">41</text>
<use href="#g66" x="1000" y="936"/><use href="#g82" x="1006" y="936"/><use href="#g78" x="1012" y="936"/><text x="1000.1" y="936" textLength="18.5">BRN</text>
<use href="#g52" x="1031" y="943"/><use href="#g50" x="1036" y="943"/><text x="1031.0" y="943" textLength="9.7">42</text>
<use href="#g71" x="999" y="951"/><use href="#g82" x="1006" y="951"/><use href="#g78" x="1012" y="951"/><text x="999.2" y="951" textLength="19.4">GRN</text>
<use href="#g52" x="1031" y="957"/><use href="#g51" x="1036" y="957"/><text x="1031.0" y="957" textLength="9.7">43</text>
<use href="#g71" x="1000" y="965"/><use href="#g82" x="1006" y="965"/><use href="#g89" x="1013" y="965"/><text x="999.6" y="965" textLength="19.0">GRY</text>
<use href="#g52" x="1031" y="972"/><use href="#g52" x="1036" y="972"/><text x="1031.0" y="972" textLength="9.7">44</text>
<use href="#g87" x="999" y="980"/><use href="#g72" x="1007" y="980"/><use href="#g84" x="1013" y="980"/><text x="998.7" y="980" textLength="19.9">WHT</text>
<use href="#g52" x="1031" y="986"/><use href="#g53" x="1036" y="986"/><text x="1031.0" y="986" textLength="9.7">45</text>
<use href="#g71" x="980" y="994"/><use href="#g82" x="987" y="994"/><use href="#g78" x="993" y="994"/><use href="#g47" x="1000" y="994"/><use href="#g66" x="1002" y="994"/><use href="#g76" x="1008" y="994"/><use href="#g75" x="1013" y="994"/><text x="980.2" y="994" textLength="38.4">GRN/BLK</text>
<use href="#g52" x="1031" y="1001"/><use href="#g54" x="1036" y="1001"/><text x="1031.0" y="1001" textLength="9.7">46</text>
<use href="#g71" x="1000" y="1009"/><use href="#g82" x="1006" y="1009"/><use href="#g89" x="1013" y="1009"/><text x="999.6" y="1009" textLength="19.0">GRY</text>
<use href="#g52" x="1031" y="1015"/><use href="#g55" x="1036" y="1015"/><text x="1031.0" y="1015" textLength="9.7">47</text>
<use href="#g71" x="999" y="1023"/><use href="#g82" x="1006" y="1023"/><use href="#g78" x="1012" y="1023"/><text x="999.2" y="1023" textLength="19.4">GRN</text>
<use href="#g52" x="1031" y="1030"/><use href="#g56" x="1036" y="1030"/><text x="1031.0" y="1030" textLength="9.7">48</text>
<use href="#g66" x="1002" y="1067"/><use href="#g76" x="1007" y="1067"/><use href="#g85" x="1012" y="1067"/><text x="1001.6" y="1067" textLength="17.0">BLU</text>
<use href="#g52" x="1031" y="1073"/><use href="#g57" x="1036" y="1073"/><text x="1031.0" y="1073" textLength="9.7">49</text>
<use href="#g66" x="1002" y="1081"/><use href="#g76" x="1007" y="1081"/><use href="#g85" x="1012" y="1081"/><text x="1001.6" y="1081" textLength="17.0">BLU</text>
<use href="#g53" x="1031" y="1088"/><use href="#g48" x="1036" y="1088"/><text x="1031.0" y="1088" textLength="9.7">50</text>
<use href="#g79" x="999" y="1096"/><use href="#g82" x="1005" y="1096"/><use href="#g71" x="1012" y="1096"/><text x="998.7" y="1096" textLength="19.9">ORG</text>
<use href="#g53" x="1031" y="1102"/><use href="#g49" x="1036" y="1102"/><text x="1031.0" y="1102" textLength="9.7">51</text>
<path d="M248.5 198.5 L259.5 198.5 L254 206.5 Z" fill="#000" stroke="none" shape-rendering="auto"/>
<path d="M306.5 198.5 L317.5 198.5 L312 206.5 Z" fill="#000" stroke="none" shape-rendering="auto"/>
<path d="M945.5 227.5 L956.5 227.5 L951 235.5 Z" fill="#000" stroke="none" shape-rendering="auto"/>
<path d="M989.5 227.5 L1000.5 227.5 L995 235.5 Z" fill="#000" stroke="none" shape-rendering="auto"/>
<path d="M640.5 1142.5 L651.5 1142.5 L646 1134 Z" fill="#000" stroke="none" shape-rendering="auto"/>
<path d="M137 253h3v1h-3zM136 254h5v1h-5zM136 255h5v1h-5zM136 256h6v1h-6zM136 257h5v1h-5zM136 258h5v1h-5zM137 259h3v1h-3z" fill="#000" stroke="none"/>
<circle cx="66" cy="1113.2" r="3.3" fill="#000" stroke="none" shape-rendering="auto"/>
<circle cx="733.8" cy="1055" r="3" fill="#000" stroke="none" shape-rendering="auto"/>
<use href="#g40" x="155" y="26"/><use href="#g79" x="158" y="26"/><use href="#g78" x="165" y="26"/><use href="#g84" x="173" y="26"/><use href="#g79" x="179" y="26"/><use href="#g80" x="185" y="26"/><use href="#g79" x="194" y="26"/><use href="#g70" x="200" y="26"/><use href="#g84" x="208" y="26"/><use href="#g82" x="214" y="26"/><use href="#g65" x="220" y="26"/><use href="#g78" x="226" y="26"/><use href="#g83" x="232" y="26"/><use href="#g65" x="238" y="26"/><use href="#g88" x="244" y="26"/><use href="#g76" x="250" y="26"/><use href="#g69" x="254" y="26"/><use href="#g41" x="260" y="26"/><text x="154.8" y="26" textLength="108.4">(ON TOP OF TRANSAXLE)</text>
<use href="#g84" x="148" y="35"/><use href="#g82" x="153" y="35"/><use href="#g65" x="159" y="35"/><use href="#g78" x="165" y="35"/><use href="#g83" x="172" y="35"/><use href="#g65" x="177" y="35"/><use href="#g88" x="183" y="35"/><use href="#g76" x="189" y="35"/><use href="#g69" x="194" y="35"/><use href="#g82" x="202" y="35"/><use href="#g65" x="209" y="35"/><use href="#g78" x="214" y="35"/><use href="#g71" x="221" y="35"/><use href="#g69" x="227" y="35"/><use href="#g83" x="236" y="35"/><use href="#g87" x="242" y="35"/><use href="#g73" x="250" y="35"/><use href="#g84" x="252" y="35"/><use href="#g67" x="258" y="35"/><use href="#g72" x="264" y="35"/><text x="147.7" y="35" textLength="122.5">TRANSAXLE RANGE SWITCH</text>
<rect x="94.5" y="38.5" width="247" height="95" stroke="#000" stroke-width="1" />
<path d="M109.5 133.5 L109.5 53.5 L181.5 53.5 L181.5 67.5" stroke="#000" stroke-width="1" />
<circle cx="181.8" cy="67.5" r="2.2" fill="#000" stroke="none" shape-rendering="auto"/>
<path d="M181.5 67.5 L162 87.5" stroke="#000" stroke-width="1" shape-rendering="auto"/>
<path d="M164 85.5 L169.5 82.5 L167 80 Z" fill="#000" stroke="#000" stroke-width="1" shape-rendering="auto"/>
<circle cx="162" cy="87.5" r="2.2" fill="#000" stroke="none" shape-rendering="auto"/>
<path d="M175 74.5 H300" stroke="#000" stroke-width="1" stroke-dasharray="10 3.65" stroke-dashoffset="2"/>
<path d="M162.5 87.5 L138.5 87.5 L138.5 133.5" stroke="#000" stroke-width="1" />
<circle cx="174.8" cy="94.5" r="2" fill="#000" stroke="none" shape-rendering="auto"/>
<path d="M174.5 94.5 L167.5 94.5 L167.5 133.5" stroke="#000" stroke-width="1" />
<circle cx="189.5" cy="94.5" r="2" fill="#000" stroke="none" shape-rendering="auto"/>
<path d="M189.5 94.5 L196.5 94.5 L196.5 133.5" stroke="#000" stroke-width="1" />
<circle cx="202.2" cy="87.5" r="2" fill="#000" stroke="none" shape-rendering="auto"/>
<path d="M202.5 87.5 L240.5 87.5 L240.5 133.5" stroke="#000" stroke-width="1" />
<path d="M254.5 133.5 L254.5 53.5 L305.5 53.5 L305.5 69.5" stroke="#000" stroke-width="1" />
<circle cx="305.5" cy="69.3" r="2.2" fill="#000" stroke="none" shape-rendering="auto"/>
<path d="M305.5 69.5 L285.5 88.5" stroke="#000" stroke-width="1" shape-rendering="auto"/>
<path d="M288 86.5 L293 83.5 L290.5 81 Z" fill="#000" stroke="#000" stroke-width="1" shape-rendering="auto"/>
<rect x="283.5" y="86.8" width="4" height="4" fill="#000" stroke="none"/>
<path d="M285.5 89.5 L285.5 112.5 L312.5 112.5" stroke="#000" stroke-width="1" />
<circle cx="312.7" cy="112.5" r="2" fill="#000" stroke="none" shape-rendering="auto"/>
<circle cx="312.7" cy="96.3" r="2" fill="#000" stroke="none" shape-rendering="auto"/>
<path d="M312.5 96.5 L312.5 133.5" stroke="#000" stroke-width="1" />
<circle cx="298" cy="96.3" r="2" fill="#000" stroke="none" shape-rendering="auto"/>
<rect x="323.3" y="86.8" width="4" height="4" fill="#000" stroke="none"/>
<use href="#g80" x="152" y="86"/><text x="152.5" y="86" textLength="5.8">P</text>
<use href="#g68" x="207" y="86"/><text x="207.0" y="86" textLength="6.3">D</text>
<use href="#g82" x="173" y="106"/><text x="173.0" y="106" textLength="6.3">R</text>
<use href="#g78" x="188" y="108"/><text x="188.0" y="108" textLength="6.3">N</text>
<use href="#g80" x="276" y="88"/><text x="275.8" y="88" textLength="5.8">P</text>
<use href="#g68" x="330" y="88"/><text x="329.5" y="88" textLength="6.3">D</text>
<use href="#g82" x="296" y="108"/><text x="296.5" y="108" textLength="6.3">R</text>
<use href="#g78" x="317" y="106"/><text x="317.0" y="106" textLength="6.3">N</text>
<path d="M108 132h1v1h-1zM107 131h1v1h-1zM106 130h1v1h-1zM105 129h1v1h-1zM110 132h1v1h-1zM111 131h1v1h-1zM112 130h1v1h-1zM113 129h1v1h-1z" fill="#000" stroke="none"/>
<path d="M104 137h1v1h-1zM114 137h1v1h-1zM104 138h1v1h-1zM114 138h1v1h-1zM105 139h1v1h-1zM113 139h1v1h-1zM106 140h7v1h-7z" fill="#000" stroke="none"/>
<path d="M137 132h1v1h-1zM136 131h1v1h-1zM135 130h1v1h-1zM134 129h1v1h-1zM139 132h1v1h-1zM140 131h1v1h-1zM141 130h1v1h-1zM142 129h1v1h-1z" fill="#000" stroke="none"/>
<path d="M133 137h1v1h-1zM143 137h1v1h-1zM133 138h1v1h-1zM143 138h1v1h-1zM134 139h1v1h-1zM142 139h1v1h-1zM135 140h7v1h-7z" fill="#000" stroke="none"/>
<path d="M166 132h1v1h-1zM165 131h1v1h-1zM164 130h1v1h-1zM163 129h1v1h-1zM168 132h1v1h-1zM169 131h1v1h-1zM170 130h1v1h-1zM171 129h1v1h-1z" fill="#000" stroke="none"/>
<path d="M162 137h1v1h-1zM172 137h1v1h-1zM162 138h1v1h-1zM172 138h1v1h-1zM163 139h1v1h-1zM171 139h1v1h-1zM164 140h7v1h-7z" fill="#000" stroke="none"/>
<path d="M195 132h1v1h-1zM194 131h1v1h-1zM193 130h1v1h-1zM192 129h1v1h-1zM197 132h1v1h-1zM198 131h1v1h-1zM199 130h1v1h-1zM200 129h1v1h-1z" fill="#000" stroke="none"/>
<path d="M191 137h1v1h-1zM201 137h1v1h-1zM191 138h1v1h-1zM201 138h1v1h-1zM192 139h1v1h-1zM200 139h1v1h-1zM193 140h7v1h-7z" fill="#000" stroke="none"/>
<path d="M239 132h1v1h-1zM238 131h1v1h-1zM237 130h1v1h-1zM236 129h1v1h-1zM241 132h1v1h-1zM242 131h1v1h-1zM243 130h1v1h-1zM244 129h1v1h-1z" fill="#000" stroke="none"/>
<path d="M235 137h1v1h-1zM245 137h1v1h-1zM235 138h1v1h-1zM245 138h1v1h-1zM236 139h1v1h-1zM244 139h1v1h-1zM237 140h7v1h-7z" fill="#000" stroke="none"/>
<path d="M253 132h1v1h-1zM252 131h1v1h-1zM251 130h1v1h-1zM250 129h1v1h-1zM255 132h1v1h-1zM256 131h1v1h-1zM257 130h1v1h-1zM258 129h1v1h-1z" fill="#000" stroke="none"/>
<path d="M249 137h1v1h-1zM259 137h1v1h-1zM249 138h1v1h-1zM259 138h1v1h-1zM250 139h1v1h-1zM258 139h1v1h-1zM251 140h7v1h-7z" fill="#000" stroke="none"/>
<path d="M311 132h1v1h-1zM310 131h1v1h-1zM309 130h1v1h-1zM308 129h1v1h-1zM313 132h1v1h-1zM314 131h1v1h-1zM315 130h1v1h-1zM316 129h1v1h-1z" fill="#000" stroke="none"/>
<path d="M307 137h1v1h-1zM317 137h1v1h-1zM307 138h1v1h-1zM317 138h1v1h-1zM308 139h1v1h-1zM316 139h1v1h-1zM309 140h7v1h-7z" fill="#000" stroke="none"/>
<g transform="translate(106 176) rotate(-90)"><use href="#g80" x="0"/><use href="#g78" x="6"/><use href="#g75" x="12"/><text x="0.0" y="0" textLength="18.0">PNK</text></g>
<g transform="translate(106 148) rotate(-90)"><use href="#g56" x="0"/><text x="0.0" y="0" textLength="4.9">8</text></g>
<g transform="translate(135 176) rotate(-90)"><use href="#g71" x="0"/><use href="#g82" x="7"/><use href="#g78" x="13"/><text x="0.0" y="0" textLength="19.4">GRN</text></g>
<g transform="translate(135 148) rotate(-90)"><use href="#g51" x="0"/><text x="0.0" y="0" textLength="4.9">3</text></g>
<g transform="translate(164 176) rotate(-90)"><use href="#g82" x="0"/><use href="#g69" x="6"/><use href="#g68" x="12"/><text x="0.0" y="0" textLength="18.5">RED</text></g>
<g transform="translate(164 148) rotate(-90)"><use href="#g55" x="0"/><text x="0.0" y="0" textLength="4.9">7</text></g>
<g transform="translate(193 176) rotate(-90)"><use href="#g66" x="0"/><use href="#g82" x="6"/><use href="#g78" x="12"/><text x="0.0" y="0" textLength="18.5">BRN</text></g>
<g transform="translate(193 148) rotate(-90)"><use href="#g52" x="0"/><text x="0.0" y="0" textLength="4.9">4</text></g>
<g transform="translate(309 176) rotate(-90)"><use href="#g66" x="0"/><use href="#g76" x="6"/><use href="#g75" x="11"/><text x="0.0" y="0" textLength="16.5">BLK</text></g>
<g transform="translate(309 148) rotate(-90)"><use href="#g57" x="0"/><text x="0.0" y="0" textLength="4.9">9</text></g>
<g transform="translate(236 173) rotate(-90)"><use href="#g89" x="0"/><use href="#g69" x="6"/><use href="#g76" x="12"/><text x="0.0" y="0" textLength="16.5">YEL</text></g>
<g transform="translate(236 148) rotate(-90)"><use href="#g49" x="0"/><text x="0.0" y="0" textLength="4.9">1</text></g>
<g transform="translate(251 176) rotate(-90)"><use href="#g71" x="0"/><use href="#g82" x="7"/><use href="#g89" x="13"/><text x="0.0" y="0" textLength="19.0">GRY</text></g>
<g transform="translate(251 153) rotate(-90)"><use href="#g49" x="0"/><use href="#g48" x="5"/><text x="0.0" y="0" textLength="9.7">10</text></g>
<use href="#g71" x="146" y="253"/><use href="#g82" x="153" y="253"/><use href="#g78" x="159" y="253"/><text x="146.0" y="253" textLength="19.4">GRN</text>
<use href="#g83" x="245" y="218"/><use href="#g84" x="250" y="218"/><use href="#g65" x="256" y="218"/><use href="#g82" x="262" y="218"/><use href="#g84" x="268" y="218"/><use href="#g73" x="273" y="218"/><use href="#g78" x="276" y="218"/><use href="#g71" x="282" y="218"/><use href="#g47" x="289" y="218"/><use href="#g67" x="291" y="218"/><use href="#g72" x="298" y="218"/><use href="#g65" x="304" y="218"/><use href="#g82" x="310" y="218"/><use href="#g71" x="316" y="218"/><use href="#g73" x="323" y="218"/><use href="#g78" x="325" y="218"/><use href="#g71" x="332" y="218"/><text x="244.6" y="218" textLength="93.8">STARTING/CHARGING</text>
<use href="#g83" x="276" y="229"/><use href="#g89" x="281" y="229"/><use href="#g83" x="287" y="229"/><use href="#g84" x="293" y="229"/><use href="#g69" x="298" y="229"/><use href="#g77" x="304" y="229"/><text x="275.5" y="229" textLength="36.0">SYSTEM</text>
<use href="#g40" x="604" y="24"/><use href="#g66" x="607" y="24"/><use href="#g69" x="613" y="24"/><use href="#g72" x="619" y="24"/><use href="#g73" x="625" y="24"/><use href="#g78" x="628" y="24"/><use href="#g68" x="634" y="24"/><use href="#g67" x="643" y="24"/><use href="#g69" x="649" y="24"/><use href="#g78" x="655" y="24"/><use href="#g84" x="661" y="24"/><use href="#g69" x="666" y="24"/><use href="#g82" x="672" y="24"/><use href="#g79" x="681" y="24"/><use href="#g70" x="688" y="24"/><use href="#g68" x="696" y="24"/><use href="#g65" x="702" y="24"/><use href="#g83" x="708" y="24"/><use href="#g72" x="714" y="24"/><use href="#g44" x="720" y="24"/><use href="#g65" x="725" y="24"/><use href="#g84" x="731" y="24"/><use href="#g66" x="738" y="24"/><use href="#g65" x="744" y="24"/><use href="#g83" x="750" y="24"/><use href="#g69" x="756" y="24"/><use href="#g79" x="764" y="24"/><use href="#g70" x="771" y="24"/><use href="#g83" x="779" y="24"/><use href="#g72" x="785" y="24"/><use href="#g73" x="791" y="24"/><use href="#g70" x="793" y="24"/><use href="#g84" x="799" y="24"/><use href="#g76" x="807" y="24"/><use href="#g69" x="811" y="24"/><use href="#g86" x="817" y="24"/><use href="#g69" x="823" y="24"/><use href="#g82" x="829" y="24"/><use href="#g65" x="838" y="24"/><use href="#g83" x="843" y="24"/><use href="#g83" x="849" y="24"/><use href="#g69" x="855" y="24"/><use href="#g77" x="861" y="24"/><use href="#g66" x="868" y="24"/><use href="#g76" x="874" y="24"/><use href="#g89" x="879" y="24"/><use href="#g41" x="885" y="24"/><text x="604.3" y="24" textLength="283.5">(BEHIND CENTER OF DASH, AT BASE OF SHIFT LEVER ASSEMBLY)</text>
<use href="#g65" x="707" y="34"/><use href="#g84" x="713" y="34"/><use href="#g77" x="718" y="34"/><use href="#g76" x="728" y="34"/><use href="#g69" x="733" y="34"/><use href="#g86" x="739" y="34"/><use href="#g69" x="745" y="34"/><use href="#g82" x="750" y="34"/><use href="#g83" x="759" y="34"/><use href="#g87" x="765" y="34"/><use href="#g73" x="773" y="34"/><use href="#g84" x="776" y="34"/><use href="#g67" x="781" y="34"/><use href="#g72" x="787" y="34"/><text x="707.1" y="34" textLength="86.5">ATM LEVER SWITCH</text>
<path d="M475 38.5 L1050 38.5" stroke="#000" stroke-width="1" stroke-dasharray="10 3.65" stroke-dashoffset="5.3"/>
<path d="M475.5 38 L475.5 177" stroke="#000" stroke-width="1" stroke-dasharray="10 3.65" stroke-dashoffset="7.3"/>
<path d="M475 176.5 L1050 176.5" stroke="#000" stroke-width="1" stroke-dasharray="10 3.65" stroke-dashoffset="4.8"/>
<path d="M1049.5 38 L1049.5 177" stroke="#000" stroke-width="1" stroke-dasharray="10 3.65" stroke-dashoffset="3"/>
<path d="M484 87.5 L518 87.5" stroke="#000" stroke-width="1" stroke-dasharray="10 3.65" stroke-dashoffset="6"/>
<path d="M484.5 87 L484.5 135" stroke="#000" stroke-width="1" stroke-dasharray="10 3.65" stroke-dashoffset="4"/>
<path d="M484 134.5 L518 134.5" stroke="#000" stroke-width="1" stroke-dasharray="10 3.65" stroke-dashoffset="6.5"/>
<path d="M517.5 87 L517.5 135" stroke="#000" stroke-width="1" stroke-dasharray="10 3.65" stroke-dashoffset="4"/>
<use href="#g67" x="493" y="114"/><use href="#g80" x="499" y="114"/><use href="#g85" x="505" y="114"/><text x="492.8" y="114" textLength="18.5">CPU</text>
<path d="M501.5 134.5 L501.5 176.5" stroke="#000" stroke-width="1" />
<use href="#g65" x="520" y="93"/><use href="#g84" x="526" y="93"/><use href="#g77" x="532" y="93"/><text x="520.5" y="93" textLength="18.5">ATM</text>
<use href="#g75" x="520" y="103"/><use href="#g69" x="526" y="103"/><use href="#g89" x="532" y="103"/><use href="#g76" x="540" y="103"/><use href="#g79" x="545" y="103"/><use href="#g67" x="552" y="103"/><use href="#g75" x="558" y="103"/><text x="520.5" y="103" textLength="43.8">KEY LOCK</text>
<use href="#g67" x="520" y="114"/><use href="#g79" x="527" y="114"/><use href="#g78" x="534" y="114"/><use href="#g84" x="540" y="114"/><use href="#g82" x="545" y="114"/><use href="#g79" x="552" y="114"/><use href="#g76" x="558" y="114"/><text x="520.5" y="114" textLength="42.8">CONTROL</text>
<use href="#g77" x="520" y="124"/><use href="#g79" x="528" y="124"/><use href="#g68" x="535" y="124"/><use href="#g85" x="541" y="124"/><use href="#g76" x="547" y="124"/><use href="#g69" x="552" y="124"/><text x="520.5" y="124" textLength="37.4">MODULE</text>
<rect x="576.5" y="56.5" width="428" height="94" stroke="#000" stroke-width="1" />
<use href="#g83" x="580" y="92"/><use href="#g69" x="586" y="92"/><use href="#g76" x="592" y="92"/><use href="#g69" x="597" y="92"/><use href="#g67" x="603" y="92"/><use href="#g84" x="609" y="92"/><text x="580.5" y="92" textLength="34.0">SELECT</text>
<use href="#g83" x="580" y="102"/><use href="#g87" x="586" y="102"/><use href="#g73" x="595" y="102"/><use href="#g84" x="597" y="102"/><use href="#g67" x="602" y="102"/><use href="#g72" x="609" y="102"/><text x="580.5" y="102" textLength="34.5">SWITCH</text>
<rect x="618.5" y="86.5" width="114" height="50" stroke="#000" stroke-width="1" />
<use href="#g78" x="624" y="114"/><use href="#g79" x="630" y="114"/><use href="#g82" x="637" y="114"/><use href="#g77" x="643" y="114"/><use href="#g65" x="650" y="114"/><use href="#g76" x="656" y="114"/><text x="623.5" y="114" textLength="37.4">NORMAL</text>
<use href="#g83" x="695" y="114"/><use href="#g69" x="701" y="114"/><use href="#g76" x="706" y="114"/><use href="#g69" x="711" y="114"/><use href="#g67" x="717" y="114"/><use href="#g84" x="723" y="114"/><text x="694.8" y="114" textLength="34.0">SELECT</text>
<path d="M675.5 118.5 L675.5 67.5 L864.5 67.5 L864.5 103.5" stroke="#000" stroke-width="1" />
<circle cx="675.8" cy="96.7" r="2" fill="#000" stroke="none" shape-rendering="auto"/>
<path d="M675.5 117 V126" stroke="#000" stroke-width="2.4" shape-rendering="auto"/>
<path d="M673.5 118.2 H678 M673.5 125 H678" stroke="#000" stroke-width="2.4" shape-rendering="auto"/>
<circle cx="662" cy="121.4" r="2" fill="#000" stroke="none" shape-rendering="auto"/>
<path d="M662.5 121.5 L646.5 121.5 L646.5 176.5" stroke="#000" stroke-width="1" />
<circle cx="689.3" cy="121.4" r="2" fill="#000" stroke="none" shape-rendering="auto"/>
<path d="M689.5 121.5 L704.5 121.5 L704.5 176.5" stroke="#000" stroke-width="1" />
<circle cx="763.3" cy="67.5" r="2" fill="#000" stroke="none" shape-rendering="auto"/>
<rect x="743.5" y="92.5" width="41" height="47" stroke="#000" stroke-width="1" />
<path d="M763.5 67.5 L763.5 103.5" stroke="#000" stroke-width="1" />
<circle cx="763.5" cy="103.8" r="2.1" fill="#000" stroke="none" shape-rendering="auto"/>
<path d="M763.5 103.5 L749.5 128.5" stroke="#000" stroke-width="1" shape-rendering="auto"/>
<path d="M750.5 126.5 L755.5 121 L752 119.5 Z" fill="#000" stroke="#000" stroke-width="1" shape-rendering="auto"/>
<rect x="747.6" y="126.8" width="3.4" height="3.4" fill="#000" stroke="none"/>
<circle cx="777.3" cy="128.3" r="2.1" fill="#000" stroke="none" shape-rendering="auto"/>
<path d="M777.5 128.5 L777.5 176.5" stroke="#000" stroke-width="1" />
<use href="#g85" x="786" y="99"/><use href="#g80" x="792" y="99"/><text x="786.0" y="99" textLength="12.2">UP</text>
<use href="#g83" x="786" y="110"/><use href="#g72" x="792" y="110"/><use href="#g73" x="798" y="110"/><use href="#g70" x="801" y="110"/><use href="#g84" x="806" y="110"/><text x="786.0" y="110" textLength="25.3">SHIFT</text>
<circle cx="835.5" cy="67.5" r="2" fill="#000" stroke="none" shape-rendering="auto"/>
<path d="M835.5 67.5 L835.5 176.5" stroke="#000" stroke-width="1" />
<rect x="844.5" y="92.5" width="41" height="47" stroke="#000" stroke-width="1" />
<path d="M864.5 67.5 L864.5 103.5" stroke="#000" stroke-width="1" />
<circle cx="864.5" cy="103.8" r="2.1" fill="#000" stroke="none" shape-rendering="auto"/>
<path d="M864.5 103.5 L850.5 128.5" stroke="#000" stroke-width="1" shape-rendering="auto"/>
<path d="M851.5 126.5 L856.5 121 L853 119.5 Z" fill="#000" stroke="#000" stroke-width="1" shape-rendering="auto"/>
<rect x="848.6" y="126.8" width="3.4" height="3.4" fill="#000" stroke="none"/>
<circle cx="879.3" cy="128.3" r="2.1" fill="#000" stroke="none" shape-rendering="auto"/>
<path d="M879.5 128.5 L879.5 176.5" stroke="#000" stroke-width="1" />
<use href="#g68" x="888" y="99"/><use href="#g79" x="895" y="99"/><use href="#g87" x="902" y="99"/><use href="#g78" x="910" y="99"/><text x="888.5" y="99" textLength="27.7">DOWN</text>
<use href="#g83" x="888" y="110"/><use href="#g72" x="894" y="110"/><use href="#g73" x="901" y="110"/><use href="#g70" x="903" y="110"/><use href="#g84" x="908" y="110"/><text x="888.5" y="110" textLength="25.3">SHIFT</text>
<path d="M951.5 67.5 L994.5 67.5 L994.5 176.5" stroke="#000" stroke-width="1" />
<path d="M951.5 67.5 V101.5 L947.5 104.5 V113.8 L951.5 116.5 V176.5" stroke="#000" stroke-width="1" shape-rendering="auto"/>
<circle cx="951.5" cy="109.5" r="13.3" stroke="#000" stroke-width="1" shape-rendering="auto"/>
<path d="M948 108.5 H954 C955.5 110 954 111.5 952 111.5 L949 109.8" stroke="#000" stroke-width="1" shape-rendering="auto"/>
<use href="#g73" x="970" y="113"/><use href="#g76" x="972" y="113"/><use href="#g76" x="977" y="113"/><text x="970.0" y="113" textLength="12.2">ILL</text>
<use href="#g83" x="1008" y="63"/><use href="#g80" x="1013" y="63"/><use href="#g79" x="1019" y="63"/><use href="#g82" x="1026" y="63"/><use href="#g84" x="1032" y="63"/><text x="1007.5" y="63" textLength="30.1">SPORT</text>
<use href="#g77" x="1008" y="74"/><use href="#g79" x="1015" y="74"/><use href="#g68" x="1022" y="74"/><use href="#g69" x="1028" y="74"/><text x="1007.5" y="74" textLength="26.3">MODE</text>
<use href="#g83" x="1008" y="84"/><use href="#g87" x="1013" y="84"/><use href="#g73" x="1022" y="84"/><use href="#g84" x="1024" y="84"/><use href="#g67" x="1029" y="84"/><use href="#g72" x="1036" y="84"/><text x="1007.5" y="84" textLength="34.5">SWITCH</text>
<path d="M500 175h1v1h-1zM499 174h1v1h-1zM498 173h1v1h-1zM497 172h1v1h-1zM502 175h1v1h-1zM503 174h1v1h-1zM504 173h1v1h-1zM505 172h1v1h-1z" fill="#000" stroke="none"/>
<path d="M496 180h1v1h-1zM506 180h1v1h-1zM496 181h1v1h-1zM506 181h1v1h-1zM497 182h1v1h-1zM505 182h1v1h-1zM498 183h7v1h-7z" fill="#000" stroke="none"/>
<path d="M645 175h1v1h-1zM644 174h1v1h-1zM643 173h1v1h-1zM642 172h1v1h-1zM647 175h1v1h-1zM648 174h1v1h-1zM649 173h1v1h-1zM650 172h1v1h-1z" fill="#000" stroke="none"/>
<path d="M641 180h1v1h-1zM651 180h1v1h-1zM641 181h1v1h-1zM651 181h1v1h-1zM642 182h1v1h-1zM650 182h1v1h-1zM643 183h7v1h-7z" fill="#000" stroke="none"/>
<path d="M703 175h1v1h-1zM702 174h1v1h-1zM701 173h1v1h-1zM700 172h1v1h-1zM705 175h1v1h-1zM706 174h1v1h-1zM707 173h1v1h-1zM708 172h1v1h-1z" fill="#000" stroke="none"/>
<path d="M699 180h1v1h-1zM709 180h1v1h-1zM699 181h1v1h-1zM709 181h1v1h-1zM700 182h1v1h-1zM708 182h1v1h-1zM701 183h7v1h-7z" fill="#000" stroke="none"/>
<path d="M776 175h1v1h-1zM775 174h1v1h-1zM774 173h1v1h-1zM773 172h1v1h-1zM778 175h1v1h-1zM779 174h1v1h-1zM780 173h1v1h-1zM781 172h1v1h-1z" fill="#000" stroke="none"/>
<path d="M772 180h1v1h-1zM782 180h1v1h-1zM772 181h1v1h-1zM782 181h1v1h-1zM773 182h1v1h-1zM781 182h1v1h-1zM774 183h7v1h-7z" fill="#000" stroke="none"/>
<path d="M834 175h1v1h-1zM833 174h1v1h-1zM832 173h1v1h-1zM831 172h1v1h-1zM836 175h1v1h-1zM837 174h1v1h-1zM838 173h1v1h-1zM839 172h1v1h-1z" fill="#000" stroke="none"/>
<path d="M830 180h1v1h-1zM840 180h1v1h-1zM830 181h1v1h-1zM840 181h1v1h-1zM831 182h1v1h-1zM839 182h1v1h-1zM832 183h7v1h-7z" fill="#000" stroke="none"/>
<path d="M878 175h1v1h-1zM877 174h1v1h-1zM876 173h1v1h-1zM875 172h1v1h-1zM880 175h1v1h-1zM881 174h1v1h-1zM882 173h1v1h-1zM883 172h1v1h-1z" fill="#000" stroke="none"/>
<path d="M874 180h1v1h-1zM884 180h1v1h-1zM874 181h1v1h-1zM884 181h1v1h-1zM875 182h1v1h-1zM883 182h1v1h-1zM876 183h7v1h-7z" fill="#000" stroke="none"/>
<path d="M950 175h1v1h-1zM949 174h1v1h-1zM948 173h1v1h-1zM947 172h1v1h-1zM952 175h1v1h-1zM953 174h1v1h-1zM954 173h1v1h-1zM955 172h1v1h-1z" fill="#000" stroke="none"/>
<path d="M946 180h1v1h-1zM956 180h1v1h-1zM946 181h1v1h-1zM956 181h1v1h-1zM947 182h1v1h-1zM955 182h1v1h-1zM948 183h7v1h-7z" fill="#000" stroke="none"/>
<path d="M993 175h1v1h-1zM992 174h1v1h-1zM991 173h1v1h-1zM990 172h1v1h-1zM995 175h1v1h-1zM996 174h1v1h-1zM997 173h1v1h-1zM998 172h1v1h-1z" fill="#000" stroke="none"/>
<path d="M989 180h1v1h-1zM999 180h1v1h-1zM989 181h1v1h-1zM999 181h1v1h-1zM990 182h1v1h-1zM998 182h1v1h-1zM991 183h7v1h-7z" fill="#000" stroke="none"/>
<g transform="translate(498 222) rotate(-90)"><use href="#g71" x="0"/><use href="#g82" x="7"/><use href="#g78" x="13"/><text x="0.0" y="0" textLength="19.4">GRN</text></g>
<g transform="translate(498 192) rotate(-90)"><use href="#g52" x="0"/><text x="0.0" y="0" textLength="4.9">4</text></g>
<g transform="translate(643 222) rotate(-90)"><use href="#g71" x="0"/><use href="#g82" x="7"/><use href="#g89" x="13"/><text x="0.0" y="0" textLength="19.0">GRY</text></g>
<g transform="translate(643 192) rotate(-90)"><use href="#g54" x="0"/><text x="0.0" y="0" textLength="4.9">6</text></g>
<g transform="translate(701 222) rotate(-90)"><use href="#g66" x="0"/><use href="#g76" x="6"/><use href="#g85" x="11"/><text x="0.0" y="0" textLength="17.0">BLU</text></g>
<g transform="translate(701 196) rotate(-90)"><use href="#g49" x="0"/><use href="#g51" x="5"/><text x="0.0" y="0" textLength="9.7">13</text></g>
<g transform="translate(774 222) rotate(-90)"><use href="#g71" x="0"/><use href="#g82" x="7"/><use href="#g89" x="13"/><text x="0.0" y="0" textLength="19.0">GRY</text></g>
<g transform="translate(774 196) rotate(-90)"><use href="#g49" x="0"/><use href="#g50" x="5"/><text x="0.0" y="0" textLength="9.7">12</text></g>
<g transform="translate(832 222) rotate(-90)"><use href="#g80" x="0"/><use href="#g78" x="6"/><use href="#g75" x="12"/><text x="0.0" y="0" textLength="18.0">PNK</text></g>
<g transform="translate(832 192) rotate(-90)"><use href="#g53" x="0"/><text x="0.0" y="0" textLength="4.9">5</text></g>
<g transform="translate(948 222) rotate(-90)"><use href="#g66" x="0"/><use href="#g82" x="6"/><use href="#g78" x="12"/><text x="0.0" y="0" textLength="18.5">BRN</text></g>
<g transform="translate(948 196) rotate(-90)"><use href="#g49" x="0"/><use href="#g48" x="5"/><text x="0.0" y="0" textLength="9.7">10</text></g>
<g transform="translate(991 222) rotate(-90)"><use href="#g82" x="0"/><use href="#g69" x="6"/><use href="#g68" x="12"/><text x="0.0" y="0" textLength="18.5">RED</text></g>
<g transform="translate(991 196) rotate(-90)"><use href="#g49" x="0"/><use href="#g49" x="5"/><text x="0.0" y="0" textLength="9.7">11</text></g>
<g transform="translate(876 245) rotate(-90)"><use href="#g71" x="0"/><use href="#g82" x="7"/><use href="#g78" x="13"/><use href="#g47" x="19"/><use href="#g79" x="22"/><use href="#g82" x="29"/><use href="#g71" x="35"/><text x="0.0" y="0" textLength="41.8">GRN/ORG</text></g>
<g transform="translate(876 196) rotate(-90)"><use href="#g49" x="0"/><use href="#g52" x="5"/><text x="0.0" y="0" textLength="9.7">14</text></g>
<g transform="translate(701 263) rotate(-90)"><use href="#g71" x="0"/><use href="#g82" x="7"/><use href="#g89" x="13"/><text x="0.0" y="0" textLength="19.0">GRY</text></g>
<path d="M699 234h1v1h-1zM709 234h1v1h-1zM699 235h1v1h-1zM709 235h1v1h-1zM700 236h1v1h-1zM708 236h1v1h-1zM701 237h7v1h-7z" fill="#000" stroke="none"/>
<path d="M699 239h1v1h-1zM709 239h1v1h-1zM700 240h1v1h-1zM708 240h1v1h-1zM701 241h7v1h-7z" fill="#000" stroke="none"/>
<use href="#g73" x="941" y="247"/><use href="#g78" x="944" y="247"/><use href="#g84" x="950" y="247"/><use href="#g69" x="955" y="247"/><use href="#g82" x="961" y="247"/><use href="#g73" x="967" y="247"/><use href="#g79" x="970" y="247"/><use href="#g82" x="977" y="247"/><use href="#g76" x="985" y="247"/><use href="#g73" x="990" y="247"/><use href="#g71" x="993" y="247"/><use href="#g72" x="999" y="247"/><use href="#g84" x="1006" y="247"/><use href="#g83" x="1011" y="247"/><text x="941.1" y="247" textLength="75.8">INTERIOR LIGHTS</text>
<use href="#g83" x="962" y="258"/><use href="#g89" x="968" y="258"/><use href="#g83" x="974" y="258"/><use href="#g84" x="980" y="258"/><use href="#g69" x="985" y="258"/><use href="#g77" x="991" y="258"/><text x="962.4" y="258" textLength="36.0">SYSTEM</text>
<rect x="29.5" y="1175.5" width="539" height="103" stroke="#000" stroke-width="1" />
<path d="M48 1171h7v1h-7zM47 1172h1v1h-1zM55 1172h1v1h-1zM46 1173h1v1h-1zM56 1173h1v1h-1z" fill="#000" stroke="none"/>
<path d="M50 1176h1v1h-1zM49 1177h1v1h-1zM48 1178h1v1h-1zM47 1179h1v1h-1zM52 1176h1v1h-1zM53 1177h1v1h-1zM54 1178h1v1h-1zM55 1179h1v1h-1z" fill="#000" stroke="none"/>
<g transform="translate(47 1170) rotate(-90)"><use href="#g53" x="0"/><text x="0.0" y="0" textLength="4.9">5</text></g>
<g transform="translate(47 1150) rotate(-90)"><use href="#g79" x="0"/><use href="#g82" x="7"/><use href="#g71" x="13"/><text x="0.0" y="0" textLength="19.9">ORG</text></g>
<path d="M62 1171h7v1h-7zM61 1172h1v1h-1zM69 1172h1v1h-1zM60 1173h1v1h-1zM70 1173h1v1h-1z" fill="#000" stroke="none"/>
<path d="M64 1176h1v1h-1zM63 1177h1v1h-1zM62 1178h1v1h-1zM61 1179h1v1h-1zM66 1176h1v1h-1zM67 1177h1v1h-1zM68 1178h1v1h-1zM69 1179h1v1h-1z" fill="#000" stroke="none"/>
<g transform="translate(62 1170) rotate(-90)"><use href="#g54" x="0"/><text x="0.0" y="0" textLength="4.9">6</text></g>
<g transform="translate(62 1150) rotate(-90)"><use href="#g79" x="0"/><use href="#g82" x="7"/><use href="#g71" x="13"/><text x="0.0" y="0" textLength="19.9">ORG</text></g>
<path d="M106 1171h7v1h-7zM105 1172h1v1h-1zM113 1172h1v1h-1zM104 1173h1v1h-1zM114 1173h1v1h-1z" fill="#000" stroke="none"/>
<path d="M108 1176h1v1h-1zM107 1177h1v1h-1zM106 1178h1v1h-1zM105 1179h1v1h-1zM110 1176h1v1h-1zM111 1177h1v1h-1zM112 1178h1v1h-1zM113 1179h1v1h-1z" fill="#000" stroke="none"/>
<g transform="translate(105 1170) rotate(-90)"><use href="#g56" x="0"/><text x="0.0" y="0" textLength="4.9">8</text></g>
<g transform="translate(105 1150) rotate(-90)"><use href="#g66" x="0"/><use href="#g76" x="6"/><use href="#g85" x="11"/><text x="0.0" y="0" textLength="17.0">BLU</text></g>
<path d="M135 1171h7v1h-7zM134 1172h1v1h-1zM142 1172h1v1h-1zM133 1173h1v1h-1zM143 1173h1v1h-1z" fill="#000" stroke="none"/>
<path d="M137 1176h1v1h-1zM136 1177h1v1h-1zM135 1178h1v1h-1zM134 1179h1v1h-1zM139 1176h1v1h-1zM140 1177h1v1h-1zM141 1178h1v1h-1zM142 1179h1v1h-1z" fill="#000" stroke="none"/>
<g transform="translate(134 1170) rotate(-90)"><use href="#g55" x="0"/><text x="0.0" y="0" textLength="4.9">7</text></g>
<g transform="translate(134 1150) rotate(-90)"><use href="#g79" x="0"/><use href="#g82" x="7"/><use href="#g71" x="13"/><text x="0.0" y="0" textLength="19.9">ORG</text></g>
<path d="M164 1171h7v1h-7zM163 1172h1v1h-1zM171 1172h1v1h-1zM162 1173h1v1h-1zM172 1173h1v1h-1z" fill="#000" stroke="none"/>
<path d="M166 1176h1v1h-1zM165 1177h1v1h-1zM164 1178h1v1h-1zM163 1179h1v1h-1zM168 1176h1v1h-1zM169 1177h1v1h-1zM170 1178h1v1h-1zM171 1179h1v1h-1z" fill="#000" stroke="none"/>
<g transform="translate(163 1170) rotate(-90)"><use href="#g49" x="0"/><use href="#g50" x="5"/><text x="0.0" y="0" textLength="9.7">12</text></g>
<g transform="translate(163 1150) rotate(-90)"><use href="#g66" x="0"/><use href="#g76" x="6"/><use href="#g75" x="11"/><text x="0.0" y="0" textLength="16.5">BLK</text></g>
<path d="M222 1171h7v1h-7zM221 1172h1v1h-1zM229 1172h1v1h-1zM220 1173h1v1h-1zM230 1173h1v1h-1z" fill="#000" stroke="none"/>
<path d="M224 1176h1v1h-1zM223 1177h1v1h-1zM222 1178h1v1h-1zM221 1179h1v1h-1zM226 1176h1v1h-1zM227 1177h1v1h-1zM228 1178h1v1h-1zM229 1179h1v1h-1z" fill="#000" stroke="none"/>
<g transform="translate(221 1170) rotate(-90)"><use href="#g52" x="0"/><text x="0.0" y="0" textLength="4.9">4</text></g>
<g transform="translate(221 1150) rotate(-90)"><use href="#g89" x="0"/><use href="#g69" x="6"/><use href="#g76" x="12"/><text x="0.0" y="0" textLength="16.5">YEL</text></g>
<path d="M281 1171h7v1h-7zM280 1172h1v1h-1zM288 1172h1v1h-1zM279 1173h1v1h-1zM289 1173h1v1h-1z" fill="#000" stroke="none"/>
<path d="M283 1176h1v1h-1zM282 1177h1v1h-1zM281 1178h1v1h-1zM280 1179h1v1h-1zM285 1176h1v1h-1zM286 1177h1v1h-1zM287 1178h1v1h-1zM288 1179h1v1h-1z" fill="#000" stroke="none"/>
<g transform="translate(280 1170) rotate(-90)"><use href="#g51" x="0"/><text x="0.0" y="0" textLength="4.9">3</text></g>
<g transform="translate(280 1150) rotate(-90)"><use href="#g71" x="0"/><use href="#g82" x="7"/><use href="#g78" x="13"/><use href="#g47" x="19"/><use href="#g66" x="22"/><use href="#g76" x="28"/><use href="#g75" x="33"/><text x="0.0" y="0" textLength="38.4">GRN/BLK</text></g>
<path d="M339 1171h7v1h-7zM338 1172h1v1h-1zM346 1172h1v1h-1zM337 1173h1v1h-1zM347 1173h1v1h-1z" fill="#000" stroke="none"/>
<path d="M341 1176h1v1h-1zM340 1177h1v1h-1zM339 1178h1v1h-1zM338 1179h1v1h-1zM343 1176h1v1h-1zM344 1177h1v1h-1zM345 1178h1v1h-1zM346 1179h1v1h-1z" fill="#000" stroke="none"/>
<g transform="translate(338 1170) rotate(-90)"><use href="#g57" x="0"/><text x="0.0" y="0" textLength="4.9">9</text></g>
<g transform="translate(338 1150) rotate(-90)"><use href="#g87" x="0"/><use href="#g72" x="8"/><use href="#g84" x="15"/><text x="0.0" y="0" textLength="19.9">WHT</text></g>
<path d="M397 1171h7v1h-7zM396 1172h1v1h-1zM404 1172h1v1h-1zM395 1173h1v1h-1zM405 1173h1v1h-1z" fill="#000" stroke="none"/>
<path d="M399 1176h1v1h-1zM398 1177h1v1h-1zM397 1178h1v1h-1zM396 1179h1v1h-1zM401 1176h1v1h-1zM402 1177h1v1h-1zM403 1178h1v1h-1zM404 1179h1v1h-1z" fill="#000" stroke="none"/>
<g transform="translate(396 1170) rotate(-90)"><use href="#g49" x="0"/><use href="#g48" x="5"/><text x="0.0" y="0" textLength="9.7">10</text></g>
<g transform="translate(396 1150) rotate(-90)"><use href="#g71" x="0"/><use href="#g82" x="7"/><use href="#g78" x="13"/><use href="#g47" x="19"/><use href="#g66" x="22"/><use href="#g76" x="28"/><use href="#g75" x="33"/><text x="0.0" y="0" textLength="38.4">GRN/BLK</text></g>
<path d="M454 1171h7v1h-7zM453 1172h1v1h-1zM461 1172h1v1h-1zM452 1173h1v1h-1zM462 1173h1v1h-1z" fill="#000" stroke="none"/>
<path d="M456 1176h1v1h-1zM455 1177h1v1h-1zM454 1178h1v1h-1zM453 1179h1v1h-1zM458 1176h1v1h-1zM459 1177h1v1h-1zM460 1178h1v1h-1zM461 1179h1v1h-1z" fill="#000" stroke="none"/>
<g transform="translate(454 1170) rotate(-90)"><use href="#g49" x="0"/><use href="#g49" x="5"/><text x="0.0" y="0" textLength="9.7">11</text></g>
<g transform="translate(454 1150) rotate(-90)"><use href="#g89" x="0"/><use href="#g69" x="6"/><use href="#g76" x="12"/><text x="0.0" y="0" textLength="16.5">YEL</text></g>
<path d="M498 1171h7v1h-7zM497 1172h1v1h-1zM505 1172h1v1h-1zM496 1173h1v1h-1zM506 1173h1v1h-1z" fill="#000" stroke="none"/>
<path d="M500 1176h1v1h-1zM499 1177h1v1h-1zM498 1178h1v1h-1zM497 1179h1v1h-1zM502 1176h1v1h-1zM503 1177h1v1h-1zM504 1178h1v1h-1zM505 1179h1v1h-1z" fill="#000" stroke="none"/>
<g transform="translate(497 1170) rotate(-90)"><use href="#g49" x="0"/><text x="0.0" y="0" textLength="4.9">1</text></g>
<g transform="translate(497 1150) rotate(-90)"><use href="#g66" x="0"/><use href="#g76" x="6"/><use href="#g85" x="11"/><text x="0.0" y="0" textLength="17.0">BLU</text></g>
<path d="M541 1171h7v1h-7zM540 1172h1v1h-1zM548 1172h1v1h-1zM539 1173h1v1h-1zM549 1173h1v1h-1z" fill="#000" stroke="none"/>
<path d="M543 1176h1v1h-1zM542 1177h1v1h-1zM541 1178h1v1h-1zM540 1179h1v1h-1zM545 1176h1v1h-1zM546 1177h1v1h-1zM547 1178h1v1h-1zM548 1179h1v1h-1z" fill="#000" stroke="none"/>
<g transform="translate(541 1170) rotate(-90)"><use href="#g50" x="0"/><text x="0.0" y="0" textLength="4.9">2</text></g>
<g transform="translate(541 1150) rotate(-90)"><use href="#g66" x="0"/><use href="#g76" x="6"/><use href="#g75" x="11"/><text x="0.0" y="0" textLength="16.5">BLK</text></g>
<rect x="97.5" y="1186.5" width="23" height="43" stroke="#000" stroke-width="1" />
<path d="M109.5 1175.5 V1194.5 h0.5 c4.2 0.2 4.2 5.8 0 6 c4.2 0.2 4.2 5.8 0 6 c4.2 0.2 4.2 5.8 0 6 c4.2 0.2 4.2 5.8 0 6 h-0.5 V1243.5" stroke="#000" stroke-width="1" shape-rendering="auto"/>
<rect x="155.5" y="1186.5" width="23" height="43" stroke="#000" stroke-width="1" />
<path d="M167.5 1175.5 V1194.5 h0.5 c4.2 0.2 4.2 5.8 0 6 c4.2 0.2 4.2 5.8 0 6 c4.2 0.2 4.2 5.8 0 6 c4.2 0.2 4.2 5.8 0 6 h-0.5 V1243.5" stroke="#000" stroke-width="1" shape-rendering="auto"/>
<rect x="213.5" y="1186.5" width="23" height="43" stroke="#000" stroke-width="1" />
<path d="M225.5 1175.5 V1194.5 h0.5 c4.2 0.2 4.2 5.8 0 6 c4.2 0.2 4.2 5.8 0 6 c4.2 0.2 4.2 5.8 0 6 c4.2 0.2 4.2 5.8 0 6 h-0.5 V1243.5" stroke="#000" stroke-width="1" shape-rendering="auto"/>
<rect x="272.5" y="1186.5" width="23" height="43" stroke="#000" stroke-width="1" />
<path d="M284.5 1175.5 V1194.5 h0.5 c4.2 0.2 4.2 5.8 0 6 c4.2 0.2 4.2 5.8 0 6 c4.2 0.2 4.2 5.8 0 6 c4.2 0.2 4.2 5.8 0 6 h-0.5 V1243.5" stroke="#000" stroke-width="1" shape-rendering="auto"/>
<rect x="330.5" y="1186.5" width="23" height="43" stroke="#000" stroke-width="1" />
<path d="M342.5 1175.5 V1194.5 h0.5 c4.2 0.2 4.2 5.8 0 6 c4.2 0.2 4.2 5.8 0 6 c4.2 0.2 4.2 5.8 0 6 c4.2 0.2 4.2 5.8 0 6 h-0.5 V1243.5" stroke="#000" stroke-width="1" shape-rendering="auto"/>
<rect x="388.5" y="1186.5" width="23" height="43" stroke="#000" stroke-width="1" />
<path d="M400.5 1175.5 V1194.5 h0.5 c4.2 0.2 4.2 5.8 0 6 c4.2 0.2 4.2 5.8 0 6 c4.2 0.2 4.2 5.8 0 6 c4.2 0.2 4.2 5.8 0 6 h-0.5 V1243.5" stroke="#000" stroke-width="1" shape-rendering="auto"/>
<rect x="445.5" y="1186.5" width="23" height="43" stroke="#000" stroke-width="1" />
<path d="M457.5 1175.5 V1194.5 h0.5 c4.2 0.2 4.2 5.8 0 6 c4.2 0.2 4.2 5.8 0 6 c4.2 0.2 4.2 5.8 0 6 c4.2 0.2 4.2 5.8 0 6 h-0.5 V1243.5" stroke="#000" stroke-width="1" shape-rendering="auto"/>
<path d="M109.5 1243.5 L138.5 1243.5 L138.5 1175.5" stroke="#000" stroke-width="1" />
<path d="M167.5 1243.5 L284.5 1243.5" stroke="#000" stroke-width="1" />
<circle cx="225.5" cy="1243.8" r="2.2" fill="#000" stroke="none" shape-rendering="auto"/>
<path d="M225.5 1243.5 L225.5 1258.5 L65.5 1258.5 L65.5 1175.5" stroke="#000" stroke-width="1" />
<path d="M342.5 1243.5 L457.5 1243.5" stroke="#000" stroke-width="1" />
<circle cx="400.5" cy="1243.8" r="2.2" fill="#000" stroke="none" shape-rendering="auto"/>
<path d="M400.5 1243.5 L400.5 1272.5 L51.5 1272.5 L51.5 1175.5" stroke="#000" stroke-width="1" />
<g transform="translate(83 1230) rotate(-90)"><use href="#g83" x="0"/><use href="#g79" x="6"/><use href="#g76" x="13"/><use href="#g69" x="18"/><use href="#g78" x="23"/><use href="#g79" x="30"/><use href="#g73" x="36"/><use href="#g68" x="39"/><text x="0.0" y="0" textLength="45.2">SOLENOID</text></g>
<g transform="translate(94 1230) rotate(-90)"><use href="#g40" x="0"/><use href="#g86" x="3"/><use href="#g70" x="9"/><use href="#g83" x="14"/><use href="#g41" x="20"/><text x="0.0" y="0" textLength="22.8">(VFS)</text></g>
<g transform="translate(187 1230) rotate(-90)"><use href="#g83" x="0"/><use href="#g79" x="6"/><use href="#g76" x="13"/><use href="#g69" x="18"/><use href="#g78" x="23"/><use href="#g79" x="30"/><use href="#g73" x="36"/><use href="#g68" x="39"/><text x="0.0" y="0" textLength="45.2">SOLENOID</text></g>
<g transform="translate(197 1230) rotate(-90)"><use href="#g40" x="0"/><use href="#g79" x="3"/><use href="#g68" x="10"/><use href="#g41" x="16"/><text x="0.0" y="0" textLength="19.0">(OD)</text></g>
<g transform="translate(245 1230) rotate(-90)"><use href="#g83" x="0"/><use href="#g79" x="6"/><use href="#g76" x="13"/><use href="#g69" x="18"/><use href="#g78" x="23"/><use href="#g79" x="30"/><use href="#g73" x="36"/><use href="#g68" x="39"/><text x="0.0" y="0" textLength="45.2">SOLENOID</text></g>
<g transform="translate(255 1230) rotate(-90)"><use href="#g40" x="0"/><use href="#g50" x="3"/><use href="#g78" x="8"/><use href="#g68" x="14"/><use href="#g41" x="20"/><text x="0.0" y="0" textLength="23.3">(2ND)</text></g>
<g transform="translate(304 1230) rotate(-90)"><use href="#g83" x="0"/><use href="#g79" x="6"/><use href="#g76" x="13"/><use href="#g69" x="18"/><use href="#g78" x="23"/><use href="#g79" x="30"/><use href="#g73" x="36"/><use href="#g68" x="39"/><text x="0.0" y="0" textLength="45.2">SOLENOID</text></g>
<g transform="translate(314 1230) rotate(-90)"><use href="#g40" x="0"/><use href="#g85" x="3"/><use href="#g68" x="9"/><use href="#g41" x="16"/><text x="0.0" y="0" textLength="18.5">(UD)</text></g>
<g transform="translate(362 1230) rotate(-90)"><use href="#g83" x="0"/><use href="#g79" x="6"/><use href="#g76" x="13"/><use href="#g69" x="18"/><use href="#g78" x="23"/><use href="#g79" x="30"/><use href="#g73" x="36"/><use href="#g68" x="39"/><text x="0.0" y="0" textLength="45.2">SOLENOID</text></g>
<g transform="translate(372 1230) rotate(-90)"><use href="#g40" x="0"/><use href="#g68" x="3"/><use href="#g67" x="9"/><use href="#g67" x="16"/><use href="#g41" x="22"/><text x="0.0" y="0" textLength="24.8">(DCC)</text></g>
<g transform="translate(420 1230) rotate(-90)"><use href="#g83" x="0"/><use href="#g79" x="6"/><use href="#g76" x="13"/><use href="#g69" x="18"/><use href="#g78" x="23"/><use href="#g79" x="30"/><use href="#g73" x="36"/><use href="#g68" x="39"/><text x="0.0" y="0" textLength="45.2">SOLENOID</text></g>
<g transform="translate(430 1230) rotate(-90)"><use href="#g40" x="0"/><use href="#g82" x="3"/><use href="#g69" x="9"/><use href="#g68" x="15"/><use href="#g41" x="21"/><text x="0.0" y="0" textLength="24.3">(RED)</text></g>
<g transform="translate(478 1230) rotate(-90)"><use href="#g83" x="0"/><use href="#g79" x="6"/><use href="#g76" x="13"/><use href="#g69" x="18"/><use href="#g78" x="23"/><use href="#g79" x="30"/><use href="#g73" x="36"/><use href="#g68" x="39"/><text x="0.0" y="0" textLength="45.2">SOLENOID</text></g>
<g transform="translate(488 1230) rotate(-90)"><use href="#g40" x="0"/><use href="#g76" x="3"/><use href="#g82" x="8"/><use href="#g41" x="14"/><text x="0.0" y="0" textLength="17.0">(LR)</text></g>
<path d="M501.5 1175.5 L501.5 1200.5 L511.5 1200.5" stroke="#000" stroke-width="1" />
<path d="M544.5 1175.5 L544.5 1200.5 L535.5 1200.5" stroke="#000" stroke-width="1" />
<path d="M511.5 1200.5 l1.2 -3 l2.6 6 l2.6 -6 l2.6 6 l2.6 -6 l2.6 6 l2.6 -6 l2.6 6 l2.6 -6 l1.4 3" stroke="#000" stroke-width="1" shape-rendering="auto"/>
<path d="M515.3 1195.3 L528 1203" stroke="#000" stroke-width="1" shape-rendering="auto"/>
<path d="M527 1202 L533 1206" stroke="#000" stroke-width="2.4" shape-rendering="auto"/>
<use href="#g79" x="505" y="1214"/><use href="#g73" x="512" y="1214"/><use href="#g76" x="514" y="1214"/><use href="#g84" x="522" y="1214"/><use href="#g69" x="527" y="1214"/><use href="#g77" x="533" y="1214"/><use href="#g80" x="540" y="1214"/><text x="505.1" y="1214" textLength="40.8">OIL TEMP</text>
<use href="#g83" x="507" y="1224"/><use href="#g69" x="513" y="1224"/><use href="#g78" x="519" y="1224"/><use href="#g83" x="525" y="1224"/><use href="#g79" x="531" y="1224"/><use href="#g82" x="538" y="1224"/><text x="507.0" y="1224" textLength="37.0">SENSOR</text>
<use href="#g65" x="252" y="1290"/><use href="#g47" x="257" y="1290"/><use href="#g84" x="260" y="1290"/><use href="#g83" x="268" y="1290"/><use href="#g79" x="273" y="1290"/><use href="#g76" x="280" y="1290"/><use href="#g69" x="285" y="1290"/><use href="#g78" x="291" y="1290"/><use href="#g79" x="297" y="1290"/><use href="#g73" x="304" y="1290"/><use href="#g68" x="306" y="1290"/><use href="#g86" x="315" y="1290"/><use href="#g65" x="321" y="1290"/><use href="#g76" x="327" y="1290"/><use href="#g86" x="332" y="1290"/><use href="#g69" x="338" y="1290"/><text x="251.5" y="1290" textLength="91.9">A/T SOLENOID VALVE</text>
<use href="#g40" x="243" y="1302"/><use href="#g79" x="246" y="1302"/><use href="#g78" x="253" y="1302"/><use href="#g84" x="261" y="1302"/><use href="#g79" x="267" y="1302"/><use href="#g80" x="273" y="1302"/><use href="#g79" x="282" y="1302"/><use href="#g70" x="288" y="1302"/><use href="#g84" x="296" y="1302"/><use href="#g82" x="302" y="1302"/><use href="#g65" x="308" y="1302"/><use href="#g78" x="314" y="1302"/><use href="#g83" x="320" y="1302"/><use href="#g65" x="326" y="1302"/><use href="#g88" x="332" y="1302"/><use href="#g76" x="338" y="1302"/><use href="#g69" x="342" y="1302"/><use href="#g41" x="348" y="1302"/><text x="242.8" y="1302" textLength="108.4">(ON TOP OF TRANSAXLE)</text>
<use href="#g50" x="14" y="1310"/><use href="#g54" x="19" y="1310"/><use href="#g53" x="24" y="1310"/><use href="#g54" x="28" y="1310"/><use href="#g56" x="33" y="1310"/><use href="#g54" x="38" y="1310"/><text x="13.8" y="1310" textLength="29.2">265686</text>
<use href="#g73" x="618" y="1110"/><use href="#g78" x="620" y="1110"/><use href="#g83" x="627" y="1110"/><use href="#g84" x="632" y="1110"/><use href="#g82" x="638" y="1110"/><use href="#g85" x="644" y="1110"/><use href="#g77" x="650" y="1110"/><use href="#g69" x="658" y="1110"/><use href="#g78" x="664" y="1110"/><use href="#g84" x="670" y="1110"/><text x="617.8" y="1110" textLength="57.4">INSTRUMENT</text>
<use href="#g67" x="627" y="1120"/><use href="#g76" x="633" y="1120"/><use href="#g85" x="638" y="1120"/><use href="#g83" x="644" y="1120"/><use href="#g84" x="650" y="1120"/><use href="#g69" x="655" y="1120"/><use href="#g82" x="661" y="1120"/><text x="626.6" y="1120" textLength="40.8">CLUSTER</text>
<use href="#g83" x="630" y="1131"/><use href="#g89" x="635" y="1131"/><use href="#g83" x="641" y="1131"/><use href="#g84" x="647" y="1131"/><use href="#g69" x="652" y="1131"/><use href="#g77" x="658" y="1131"/><text x="629.5" y="1131" textLength="36.0">SYSTEM</text>
<rect x="590.5" y="1204.5" width="152" height="71" stroke="#000" stroke-width="1" />
<path d="M643 1200h7v1h-7zM642 1201h1v1h-1zM650 1201h1v1h-1zM641 1202h1v1h-1zM651 1202h1v1h-1z" fill="#000" stroke="none"/>
<path d="M645 1205h1v1h-1zM644 1206h1v1h-1zM643 1207h1v1h-1zM642 1208h1v1h-1zM647 1205h1v1h-1zM648 1206h1v1h-1zM649 1207h1v1h-1zM650 1208h1v1h-1z" fill="#000" stroke="none"/>
<g transform="translate(643 1199) rotate(-90)"><use href="#g50" x="0"/><text x="0.0" y="0" textLength="4.9">2</text></g>
<g transform="translate(643 1175) rotate(-90)"><use href="#g66" x="0"/><use href="#g76" x="6"/><use href="#g85" x="11"/><text x="0.0" y="0" textLength="17.0">BLU</text></g>
<path d="M687 1200h7v1h-7zM686 1201h1v1h-1zM694 1201h1v1h-1zM685 1202h1v1h-1zM695 1202h1v1h-1z" fill="#000" stroke="none"/>
<path d="M689 1205h1v1h-1zM688 1206h1v1h-1zM687 1207h1v1h-1zM686 1208h1v1h-1zM691 1205h1v1h-1zM692 1206h1v1h-1zM693 1207h1v1h-1zM694 1208h1v1h-1z" fill="#000" stroke="none"/>
<g transform="translate(687 1199) rotate(-90)"><use href="#g51" x="0"/><text x="0.0" y="0" textLength="4.9">3</text></g>
<g transform="translate(687 1175) rotate(-90)"><use href="#g71" x="0"/><use href="#g82" x="7"/><use href="#g89" x="13"/><text x="0.0" y="0" textLength="19.0">GRY</text></g>
<path d="M730 1200h7v1h-7zM729 1201h1v1h-1zM737 1201h1v1h-1zM728 1202h1v1h-1zM738 1202h1v1h-1z" fill="#000" stroke="none"/>
<path d="M732 1205h1v1h-1zM731 1206h1v1h-1zM730 1207h1v1h-1zM729 1208h1v1h-1zM734 1205h1v1h-1zM735 1206h1v1h-1zM736 1207h1v1h-1zM737 1208h1v1h-1z" fill="#000" stroke="none"/>
<g transform="translate(730 1199) rotate(-90)"><use href="#g49" x="0"/><text x="0.0" y="0" textLength="4.9">1</text></g>
<g transform="translate(730 1175) rotate(-90)"><use href="#g66" x="0"/><use href="#g76" x="6"/><use href="#g75" x="11"/><text x="0.0" y="0" textLength="16.5">BLK</text></g>
<g transform="translate(730 1046) rotate(-90)"><use href="#g66" x="0"/><use href="#g76" x="6"/><use href="#g75" x="11"/><text x="0.0" y="0" textLength="16.5">BLK</text></g>
<rect x="634.5" y="1222.5" width="25" height="38" stroke="#000" stroke-width="1" />
<path d="M646.5 1204.5 L646.5 1230.5" stroke="#000" stroke-width="1" />
<path d="M646.5 1229.5 l3 1.3 l-6 2.7 l6 2.7 l-6 2.7 l6 2.7 l-6 2.7 l6 2.7 l-6 2.7 l6 2.7 l-3 1.6 V1275" stroke="#000" stroke-width="1" shape-rendering="auto"/>
<path d="M641.5 1250.5 L653 1233" stroke="#000" stroke-width="1" shape-rendering="auto"/>
<path d="M654.3 1231 L653.5 1236.5 L650 1234 Z" fill="#000" stroke="#000" stroke-width="1" shape-rendering="auto"/>
<circle cx="646.7" cy="1274.3" r="2.6" fill="#000" stroke="none" shape-rendering="auto"/>
<path d="M641 1278.5 H653 M643.5 1280.5 H650.5 M645.5 1282.5 H648.5" stroke="#000" stroke-width="1"/>
<use href="#g83" x="595" y="1229"/><use href="#g69" x="601" y="1229"/><use href="#g78" x="606" y="1229"/><use href="#g68" x="613" y="1229"/><use href="#g69" x="619" y="1229"/><use href="#g82" x="625" y="1229"/><text x="594.8" y="1229" textLength="36.5">SENDER</text>
<path d="M690.5 1204.5 L690.5 1229.5 L700.5 1229.5" stroke="#000" stroke-width="1" />
<path d="M733.5 1204.5 L733.5 1229.5 L724.5 1229.5" stroke="#000" stroke-width="1" />
<path d="M700.5 1229.5 l1.2 -3 l2.6 6 l2.6 -6 l2.6 6 l2.6 -6 l2.6 6 l2.6 -6 l2.6 6 l2.6 -6 l1.4 3" stroke="#000" stroke-width="1" shape-rendering="auto"/>
<path d="M715.5 1228.5 L722.5 1233.5" stroke="#000" stroke-width="2.2" shape-rendering="auto"/>
<use href="#g83" x="696" y="1244"/><use href="#g69" x="702" y="1244"/><use href="#g78" x="708" y="1244"/><use href="#g83" x="714" y="1244"/><use href="#g79" x="720" y="1244"/><use href="#g82" x="727" y="1244"/><text x="696.0" y="1244" textLength="37.0">SENSOR</text>
<use href="#g69" x="594" y="1292"/><use href="#g78" x="599" y="1292"/><use href="#g71" x="606" y="1292"/><use href="#g73" x="613" y="1292"/><use href="#g78" x="615" y="1292"/><use href="#g69" x="621" y="1292"/><use href="#g67" x="630" y="1292"/><use href="#g79" x="636" y="1292"/><use href="#g79" x="643" y="1292"/><use href="#g76" x="649" y="1292"/><use href="#g65" x="654" y="1292"/><use href="#g78" x="660" y="1292"/><use href="#g84" x="667" y="1292"/><use href="#g84" x="674" y="1292"/><use href="#g69" x="680" y="1292"/><use href="#g77" x="685" y="1292"/><use href="#g80" x="693" y="1292"/><use href="#g69" x="699" y="1292"/><use href="#g82" x="704" y="1292"/><use href="#g65" x="711" y="1292"/><use href="#g84" x="717" y="1292"/><use href="#g85" x="722" y="1292"/><use href="#g82" x="728" y="1292"/><use href="#g69" x="735" y="1292"/><text x="593.6" y="1292" textLength="146.8">ENGINE COOLANT TEMPERATURE</text>
<use href="#g83" x="625" y="1302"/><use href="#g69" x="631" y="1302"/><use href="#g78" x="637" y="1302"/><use href="#g83" x="643" y="1302"/><use href="#g79" x="649" y="1302"/><use href="#g82" x="656" y="1302"/><use href="#g38" x="665" y="1302"/><use href="#g83" x="673" y="1302"/><use href="#g69" x="679" y="1302"/><use href="#g78" x="685" y="1302"/><use href="#g68" x="691" y="1302"/><use href="#g69" x="697" y="1302"/><use href="#g82" x="703" y="1302"/><text x="625.4" y="1302" textLength="84.1">SENSOR &amp; SENDER</text>
<use href="#g40" x="620" y="1312"/><use href="#g65" x="623" y="1312"/><use href="#g84" x="629" y="1312"/><use href="#g82" x="636" y="1312"/><use href="#g69" x="643" y="1312"/><use href="#g65" x="649" y="1312"/><use href="#g82" x="654" y="1312"/><use href="#g79" x="663" y="1312"/><use href="#g70" x="670" y="1312"/><use href="#g69" x="678" y="1312"/><use href="#g78" x="684" y="1312"/><use href="#g71" x="690" y="1312"/><use href="#g73" x="697" y="1312"/><use href="#g78" x="699" y="1312"/><use href="#g69" x="705" y="1312"/><use href="#g41" x="711" y="1312"/><text x="619.8" y="1312" textLength="94.3">(AT REAR OF ENGINE)</text>
<rect x="787.5" y="1205.5" width="162" height="47" stroke="#000" stroke-width="1" />
<path d="M803 1200h7v1h-7zM802 1201h1v1h-1zM810 1201h1v1h-1zM801 1202h1v1h-1zM811 1202h1v1h-1z" fill="#000" stroke="none"/>
<path d="M805 1206h1v1h-1zM804 1207h1v1h-1zM803 1208h1v1h-1zM802 1209h1v1h-1zM807 1206h1v1h-1zM808 1207h1v1h-1zM809 1208h1v1h-1zM810 1209h1v1h-1z" fill="#000" stroke="none"/>
<g transform="translate(802 1199) rotate(-90)"><use href="#g51" x="0"/><text x="0.0" y="0" textLength="4.9">3</text></g>
<g transform="translate(802 1188) rotate(-90)"><use href="#g66" x="0"/><use href="#g76" x="6"/><use href="#g85" x="11"/><text x="0.0" y="0" textLength="17.0">BLU</text></g>
<path d="M817 1200h7v1h-7zM816 1201h1v1h-1zM824 1201h1v1h-1zM815 1202h1v1h-1zM825 1202h1v1h-1z" fill="#000" stroke="none"/>
<path d="M819 1206h1v1h-1zM818 1207h1v1h-1zM817 1208h1v1h-1zM816 1209h1v1h-1zM821 1206h1v1h-1zM822 1207h1v1h-1zM823 1208h1v1h-1zM824 1209h1v1h-1z" fill="#000" stroke="none"/>
<g transform="translate(817 1199) rotate(-90)"><use href="#g50" x="0"/><text x="0.0" y="0" textLength="4.9">2</text></g>
<g transform="translate(817 1188) rotate(-90)"><use href="#g87" x="0"/><use href="#g72" x="8"/><use href="#g84" x="15"/><text x="0.0" y="0" textLength="19.9">WHT</text></g>
<path d="M832 1200h7v1h-7zM831 1201h1v1h-1zM839 1201h1v1h-1zM830 1202h1v1h-1zM840 1202h1v1h-1z" fill="#000" stroke="none"/>
<path d="M834 1206h1v1h-1zM833 1207h1v1h-1zM832 1208h1v1h-1zM831 1209h1v1h-1zM836 1206h1v1h-1zM837 1207h1v1h-1zM838 1208h1v1h-1zM839 1209h1v1h-1z" fill="#000" stroke="none"/>
<g transform="translate(831 1199) rotate(-90)"><use href="#g55" x="0"/><text x="0.0" y="0" textLength="4.9">7</text></g>
<g transform="translate(831 1188) rotate(-90)"><use href="#g71" x="0"/><use href="#g82" x="7"/><use href="#g78" x="13"/><text x="0.0" y="0" textLength="19.4">GRN</text></g>
<path d="M861 1200h7v1h-7zM860 1201h1v1h-1zM868 1201h1v1h-1zM859 1202h1v1h-1zM869 1202h1v1h-1z" fill="#000" stroke="none"/>
<path d="M863 1206h1v1h-1zM862 1207h1v1h-1zM861 1208h1v1h-1zM860 1209h1v1h-1zM865 1206h1v1h-1zM866 1207h1v1h-1zM867 1208h1v1h-1zM868 1209h1v1h-1z" fill="#000" stroke="none"/>
<g transform="translate(860 1199) rotate(-90)"><use href="#g52" x="0"/><text x="0.0" y="0" textLength="4.9">4</text></g>
<g transform="translate(860 1188) rotate(-90)"><use href="#g71" x="0"/><use href="#g82" x="7"/><use href="#g89" x="13"/><text x="0.0" y="0" textLength="19.0">GRY</text></g>
<path d="M876 1200h7v1h-7zM875 1201h1v1h-1zM883 1201h1v1h-1zM874 1202h1v1h-1zM884 1202h1v1h-1z" fill="#000" stroke="none"/>
<path d="M878 1206h1v1h-1zM877 1207h1v1h-1zM876 1208h1v1h-1zM875 1209h1v1h-1zM880 1206h1v1h-1zM881 1207h1v1h-1zM882 1208h1v1h-1zM883 1209h1v1h-1z" fill="#000" stroke="none"/>
<g transform="translate(875 1199) rotate(-90)"><use href="#g56" x="0"/><text x="0.0" y="0" textLength="4.9">8</text></g>
<g transform="translate(875 1188) rotate(-90)"><use href="#g66" x="0"/><use href="#g82" x="6"/><use href="#g78" x="12"/><text x="0.0" y="0" textLength="18.5">BRN</text></g>
<path d="M890 1200h7v1h-7zM889 1201h1v1h-1zM897 1201h1v1h-1zM888 1202h1v1h-1zM898 1202h1v1h-1z" fill="#000" stroke="none"/>
<path d="M892 1206h1v1h-1zM891 1207h1v1h-1zM890 1208h1v1h-1zM889 1209h1v1h-1zM894 1206h1v1h-1zM895 1207h1v1h-1zM896 1208h1v1h-1zM897 1209h1v1h-1z" fill="#000" stroke="none"/>
<g transform="translate(889 1199) rotate(-90)"><use href="#g54" x="0"/><text x="0.0" y="0" textLength="4.9">6</text></g>
<g transform="translate(889 1188) rotate(-90)"><use href="#g66" x="0"/><use href="#g82" x="6"/><use href="#g78" x="12"/><text x="0.0" y="0" textLength="18.5">BRN</text></g>
<path d="M919 1200h7v1h-7zM918 1201h1v1h-1zM926 1201h1v1h-1zM917 1202h1v1h-1zM927 1202h1v1h-1z" fill="#000" stroke="none"/>
<path d="M921 1206h1v1h-1zM920 1207h1v1h-1zM919 1208h1v1h-1zM918 1209h1v1h-1zM923 1206h1v1h-1zM924 1207h1v1h-1zM925 1208h1v1h-1zM926 1209h1v1h-1z" fill="#000" stroke="none"/>
<g transform="translate(918 1199) rotate(-90)"><use href="#g49" x="0"/><text x="0.0" y="0" textLength="4.9">1</text></g>
<g transform="translate(918 1188) rotate(-90)"><use href="#g80" x="0"/><use href="#g78" x="6"/><use href="#g75" x="12"/><text x="0.0" y="0" textLength="18.0">PNK</text></g>
<path d="M934 1200h7v1h-7zM933 1201h1v1h-1zM941 1201h1v1h-1zM932 1202h1v1h-1zM942 1202h1v1h-1z" fill="#000" stroke="none"/>
<path d="M936 1206h1v1h-1zM935 1207h1v1h-1zM934 1208h1v1h-1zM933 1209h1v1h-1zM938 1206h1v1h-1zM939 1207h1v1h-1zM940 1208h1v1h-1zM941 1209h1v1h-1z" fill="#000" stroke="none"/>
<g transform="translate(933 1199) rotate(-90)"><use href="#g53" x="0"/><text x="0.0" y="0" textLength="4.9">5</text></g>
<g transform="translate(933 1188) rotate(-90)"><use href="#g66" x="0"/><use href="#g76" x="6"/><use href="#g75" x="11"/><text x="0.0" y="0" textLength="16.5">BLK</text></g>
<path d="M806.5 1205.5 L806.5 1243.5 L820.5 1243.5 L820.5 1238.5" stroke="#000" stroke-width="1" />
<path d="M820.5 1205.5 L820.5 1214.5" stroke="#000" stroke-width="1" />
<rect x="816.5" y="1214.5" width="9" height="3" stroke="#000" stroke-width="1" fill="#fff"/>
<rect x="816.5" y="1235.5" width="9" height="3" stroke="#000" stroke-width="1" fill="#fff"/>
<circle cx="820.6" cy="1226.6" r="9" stroke="#000" stroke-width="1.3" fill="#fff" shape-rendering="auto"/>
<path d="M817 1222h1v1h-1zM823 1222h1v1h-1zM817 1223h1v1h-1zM818 1223h1v1h-1zM822 1223h1v1h-1zM823 1223h1v1h-1zM817 1224h1v1h-1zM818 1224h1v1h-1zM822 1224h1v1h-1zM823 1224h1v1h-1zM817 1225h1v1h-1zM819 1225h1v1h-1zM821 1225h1v1h-1zM823 1225h1v1h-1zM817 1226h1v1h-1zM819 1226h1v1h-1zM821 1226h1v1h-1zM823 1226h1v1h-1zM817 1227h1v1h-1zM820 1227h1v1h-1zM823 1227h1v1h-1zM817 1228h1v1h-1zM820 1228h1v1h-1zM823 1228h1v1h-1zM817 1229h1v1h-1zM823 1229h1v1h-1z" fill="#000" stroke="none"/>
<path d="M835.5 1205.5 L835.5 1230.5 L858.5 1230.5" stroke="#000" stroke-width="1" />
<circle cx="844" cy="1230.7" r="2" fill="#000" stroke="none" shape-rendering="auto"/>
<path d="M861.5 1230.5 L858.2 1228 L858.2 1233 Z" fill="#000" stroke="#000" stroke-width="1" shape-rendering="auto"/>
<path d="M864.5 1205.5 V1216.5 l3 1.5 l-6 3 l6 3 l-6 3 l6 3 l-6 3 l6 3 l-6 3 l3 1.5 V1243.5 H879.5 V1205.5" stroke="#000" stroke-width="1" shape-rendering="auto"/>
<path d="M893.5 1205.5 L893.5 1230.5 L916.5 1230.5" stroke="#000" stroke-width="1" />
<circle cx="902" cy="1230.7" r="2" fill="#000" stroke="none" shape-rendering="auto"/>
<path d="M919.5 1230.5 L916.2 1228 L916.2 1233 Z" fill="#000" stroke="#000" stroke-width="1" shape-rendering="auto"/>
<path d="M922.5 1205.5 V1216.5 l3 1.5 l-6 3 l6 3 l-6 3 l6 3 l-6 3 l6 3 l-6 3 l3 1.5 V1243.5 H937.5 V1205.5" stroke="#000" stroke-width="1" shape-rendering="auto"/>
<use href="#g69" x="813" y="1264"/><use href="#g84" x="819" y="1264"/><use href="#g67" x="824" y="1264"/><use href="#g77" x="833" y="1264"/><use href="#g79" x="840" y="1264"/><use href="#g84" x="847" y="1264"/><use href="#g79" x="852" y="1264"/><use href="#g82" x="859" y="1264"/><use href="#g38" x="868" y="1264"/><use href="#g84" x="876" y="1264"/><use href="#g72" x="881" y="1264"/><use href="#g82" x="888" y="1264"/><use href="#g79" x="894" y="1264"/><use href="#g84" x="901" y="1264"/><use href="#g84" x="906" y="1264"/><use href="#g76" x="911" y="1264"/><use href="#g69" x="916" y="1264"/><text x="812.8" y="1264" textLength="109.4">ETC MOTOR &amp; THROTTLE</text>
<use href="#g80" x="827" y="1274"/><use href="#g79" x="833" y="1274"/><use href="#g83" x="840" y="1274"/><use href="#g73" x="845" y="1274"/><use href="#g84" x="848" y="1274"/><use href="#g73" x="853" y="1274"/><use href="#g79" x="856" y="1274"/><use href="#g78" x="862" y="1274"/><use href="#g83" x="871" y="1274"/><use href="#g69" x="877" y="1274"/><use href="#g78" x="883" y="1274"/><use href="#g83" x="889" y="1274"/><use href="#g79" x="895" y="1274"/><use href="#g82" x="902" y="1274"/><text x="826.9" y="1274" textLength="81.2">POSITION SENSOR</text>
<use href="#g40" x="827" y="1284"/><use href="#g82" x="830" y="1284"/><use href="#g69" x="837" y="1284"/><use href="#g65" x="842" y="1284"/><use href="#g82" x="848" y="1284"/><use href="#g79" x="857" y="1284"/><use href="#g70" x="864" y="1284"/><use href="#g69" x="872" y="1284"/><use href="#g78" x="877" y="1284"/><use href="#g71" x="884" y="1284"/><use href="#g73" x="891" y="1284"/><use href="#g78" x="893" y="1284"/><use href="#g69" x="899" y="1284"/><use href="#g41" x="905" y="1284"/><text x="827.3" y="1284" textLength="80.7">(REAR OF ENGINE)</text>
</svg>
</body></html>
